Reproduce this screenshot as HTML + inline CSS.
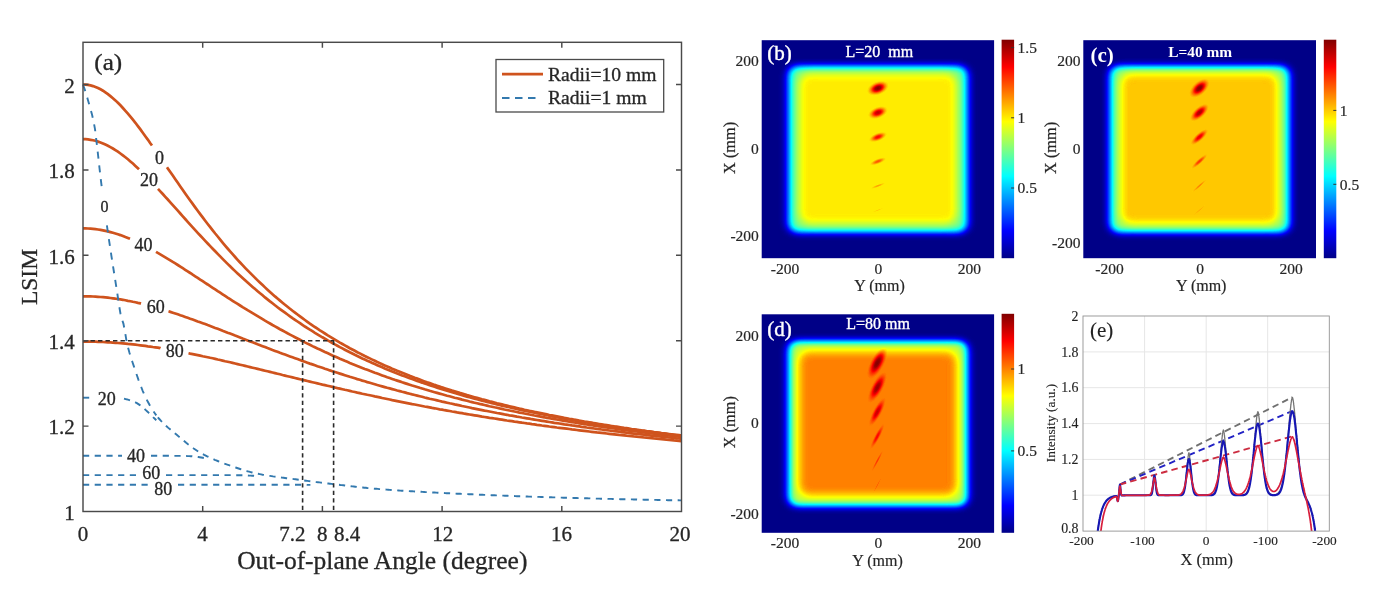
<!DOCTYPE html>
<html lang="en">
<head>
<meta charset="utf-8">
<title>LSIM versus out-of-plane angle and intensity maps</title>
<style>
html,body{margin:0;padding:0;background:#fff;}
body{width:1381px;height:593px;overflow:hidden;font-family:"Liberation Serif","Times New Roman",serif;}
svg{display:block;}
</style>
</head>
<body>
<svg width="1381" height="593" viewBox="0 0 1381 593">
<defs>
<filter id="jet" x="0" y="0" width="100%" height="100%" color-interpolation-filters="sRGB">
<feComponentTransfer>
<feFuncR type="table" tableValues="0 0 0 0 0.5 1 1 1 0.5"/>
<feFuncG type="table" tableValues="0 0 0.5 1 1 1 0.5 0 0"/>
<feFuncB type="table" tableValues="0.53 1 1 1 0.5 0 0 0 0"/>
</feComponentTransfer>
</filter>
<filter id="bl" x="-10%" y="-10%" width="120%" height="120%" color-interpolation-filters="sRGB"><feGaussianBlur stdDeviation="4 3.75"/></filter>
<filter id="bl2" x="-10%" y="-10%" width="120%" height="120%" color-interpolation-filters="sRGB"><feGaussianBlur stdDeviation="4.3 4"/></filter>
<radialGradient id="sp"><stop offset="0" stop-color="#fff"/><stop offset="0.25" stop-color="#fff" stop-opacity="0.9"/><stop offset="0.45" stop-color="#fff" stop-opacity="0.62"/><stop offset="0.65" stop-color="#fff" stop-opacity="0.3"/><stop offset="0.85" stop-color="#fff" stop-opacity="0.08"/><stop offset="1" stop-color="#fff" stop-opacity="0"/></radialGradient>
<filter id="bs" x="-20%" y="-20%" width="140%" height="140%" color-interpolation-filters="sRGB"><feGaussianBlur stdDeviation="0.6"/></filter>
<linearGradient id="cb" x1="0" y1="1" x2="0" y2="0">
<stop offset="0" stop-color="#000087"/><stop offset="0.125" stop-color="#0000ff"/><stop offset="0.375" stop-color="#00ffff"/>
<stop offset="0.625" stop-color="#ffff00"/><stop offset="0.875" stop-color="#ff0000"/><stop offset="1" stop-color="#800000"/>
</linearGradient>
</defs>
<rect width="1381" height="593" fill="#fff"/>
<g id="pa">
<g fill="none" stroke="#CF531D" stroke-width="2.7" stroke-linecap="butt">
<path d="M83,84.5L85.5,84.6L88,84.9L90.5,85.4L93,86.1L95.5,87L98,88L100.5,89.3L103,90.7L105.4,92.4L107.9,94.1L110.4,96.1L112.9,98.2L115.4,100.4L117.9,102.8L120.4,105.3L122.9,108L125.4,110.8L127.9,113.6L130.4,116.6L132.9,119.7L135.4,122.8L137.9,126.1L140.4,129.4L142.8,132.8L145.3,136.2L147.8,139.6L150.3,143.2L152,145.5"/>
<path d="M167,167.2L167.8,168.4L170.3,172L172.8,175.6L175.3,179.2L177.8,182.8L180.3,186.4L182.8,190L185.2,193.5L187.7,197L190.2,200.5L192.7,203.9L195.2,207.4L197.7,210.8L200.2,214.1L202.7,217.4L205.2,220.7L207.7,224L210.2,227.2L212.7,230.3L215.2,233.5L217.7,236.5L220.2,239.6L222.6,242.6L225.1,245.6L227.6,248.5L230.1,251.4L232.6,254.2L235.1,257L237.6,259.8L240.1,262.5L242.6,265.1L245.1,267.8L247.6,270.4L250.1,272.9L252.6,275.4L255.1,277.9L257.6,280.4L260.1,282.8L262.6,285.1L265,287.4L267.5,289.7L270,292L272.5,294.2L275,296.4L277.5,298.5L280,300.6L282.5,302.7L285,304.8L287.5,306.8L290,308.8L292.5,310.7L295,312.6L297.5,314.5L300,316.4L302.4,318.2L304.9,320L307.4,321.8L309.9,323.6L312.4,325.3L314.9,327L317.4,328.6L319.9,330.3L322.4,331.9L324.9,333.5L327.4,335.1L329.9,336.6L332.4,338.1L334.9,339.6L337.4,341.1L339.9,342.6L342.4,344L344.8,345.4L347.3,346.8L349.8,348.2L352.3,349.5L354.8,350.8L357.3,352.2L359.8,353.4L362.3,354.7L364.8,356L367.3,357.2L369.8,358.4L372.3,359.6L374.8,360.8L377.3,362L379.8,363.1L382.2,364.3L384.7,365.4L387.2,366.5L389.7,367.6L392.2,368.7L394.7,369.7L397.2,370.8L399.7,371.8L402.2,372.8L404.7,373.8L407.2,374.8L409.7,375.8L412.2,376.7L414.7,377.7L417.2,378.6L419.7,379.6L422.1,380.5L424.6,381.4L427.1,382.3L429.6,383.1L432.1,384L434.6,384.9L437.1,385.7L439.6,386.5L442.1,387.4L444.6,388.2L447.1,389L449.6,389.8L452.1,390.6L454.6,391.3L457.1,392.1L459.6,392.9L462.1,393.6L464.5,394.3L467,395.1L469.5,395.8L472,396.5L474.5,397.2L477,397.9L479.5,398.6L482,399.3L484.5,399.9L487,400.6L489.5,401.3L492,401.9L494.5,402.5L497,403.2L499.5,403.8L501.9,404.4L504.4,405L506.9,405.6L509.4,406.2L511.9,406.8L514.4,407.4L516.9,408L519.4,408.6L521.9,409.1L524.4,409.7L526.9,410.2L529.4,410.8L531.9,411.3L534.4,411.9L536.9,412.4L539.4,412.9L541.9,413.4L544.3,413.9L546.8,414.4L549.3,415L551.8,415.4L554.3,415.9L556.8,416.4L559.3,416.9L561.8,417.4L564.3,417.9L566.8,418.3L569.3,418.8L571.8,419.2L574.3,419.7L576.8,420.1L579.3,420.6L581.7,421L584.2,421.5L586.7,421.9L589.2,422.3L591.7,422.7L594.2,423.2L596.7,423.6L599.2,424L601.7,424.4L604.2,424.8L606.7,425.2L609.2,425.6L611.7,426L614.2,426.4L616.7,426.7L619.2,427.1L621.6,427.5L624.1,427.9L626.6,428.2L629.1,428.6L631.6,429L634.1,429.3L636.6,429.7L639.1,430L641.6,430.4L644.1,430.7L646.6,431.1L649.1,431.4L651.6,431.7L654.1,432.1L656.6,432.4L659.1,432.7L661.5,433.1L664,433.4L666.5,433.7L669,434L671.5,434.3L674,434.6L676.5,434.9L679,435.2L681.5,435.5"/>
<path d="M83,139.2L85.5,139.2L88,139.4L90.5,139.8L93,140.2L95.5,140.8L98,141.6L100.5,142.4L103,143.4L105.4,144.5L107.9,145.7L110.4,147.1L112.9,148.5L115.4,150.1L117.9,151.7L120.4,153.5L122.9,155.4L125.4,157.3L127.9,159.3L130.4,161.4L132.9,163.6L135.4,165.9L137.9,168.2L139,169.3"/>
<path d="M158,188.8L160.3,191.3L162.8,194L165.3,196.8L167.8,199.5L170.3,202.3L172.8,205.1L175.3,207.9L177.8,210.7L180.3,213.5L182.8,216.3L185.2,219L187.7,221.8L190.2,224.6L192.7,227.3L195.2,230.1L197.7,232.8L200.2,235.5L202.7,238.2L205.2,240.9L207.7,243.5L210.2,246.1L212.7,248.7L215.2,251.3L217.7,253.9L220.2,256.4L222.6,258.9L225.1,261.4L227.6,263.9L230.1,266.3L232.6,268.7L235.1,271.1L237.6,273.4L240.1,275.7L242.6,278L245.1,280.3L247.6,282.5L250.1,284.7L252.6,286.9L255.1,289.1L257.6,291.2L260.1,293.3L262.6,295.3L265,297.4L267.5,299.4L270,301.4L272.5,303.3L275,305.3L277.5,307.2L280,309.1L282.5,310.9L285,312.7L287.5,314.5L290,316.3L292.5,318.1L295,319.8L297.5,321.5L300,323.2L302.4,324.8L304.9,326.5L307.4,328.1L309.9,329.7L312.4,331.2L314.9,332.8L317.4,334.3L319.9,335.8L322.4,337.3L324.9,338.7L327.4,340.2L329.9,341.6L332.4,343L334.9,344.4L337.4,345.7L339.9,347.1L342.4,348.4L344.8,349.7L347.3,351L349.8,352.3L352.3,353.5L354.8,354.8L357.3,356L359.8,357.2L362.3,358.4L364.8,359.5L367.3,360.7L369.8,361.8L372.3,363L374.8,364.1L377.3,365.2L379.8,366.3L382.2,367.3L384.7,368.4L387.2,369.4L389.7,370.4L392.2,371.5L394.7,372.5L397.2,373.4L399.7,374.4L402.2,375.4L404.7,376.3L407.2,377.3L409.7,378.2L412.2,379.1L414.7,380L417.2,380.9L419.7,381.8L422.1,382.6L424.6,383.5L427.1,384.3L429.6,385.2L432.1,386L434.6,386.8L437.1,387.6L439.6,388.4L442.1,389.2L444.6,390L447.1,390.8L449.6,391.5L452.1,392.3L454.6,393L457.1,393.7L459.6,394.5L462.1,395.2L464.5,395.9L467,396.6L469.5,397.3L472,398L474.5,398.6L477,399.3L479.5,400L482,400.6L484.5,401.3L487,401.9L489.5,402.5L492,403.2L494.5,403.8L497,404.4L499.5,405L501.9,405.6L504.4,406.2L506.9,406.8L509.4,407.3L511.9,407.9L514.4,408.5L516.9,409L519.4,409.6L521.9,410.1L524.4,410.7L526.9,411.2L529.4,411.7L531.9,412.3L534.4,412.8L536.9,413.3L539.4,413.8L541.9,414.3L544.3,414.8L546.8,415.3L549.3,415.8L551.8,416.3L554.3,416.7L556.8,417.2L559.3,417.7L561.8,418.1L564.3,418.6L566.8,419.1L569.3,419.5L571.8,419.9L574.3,420.4L576.8,420.8L579.3,421.3L581.7,421.7L584.2,422.1L586.7,422.5L589.2,422.9L591.7,423.4L594.2,423.8L596.7,424.2L599.2,424.6L601.7,425L604.2,425.3L606.7,425.7L609.2,426.1L611.7,426.5L614.2,426.9L616.7,427.3L619.2,427.6L621.6,428L624.1,428.4L626.6,428.7L629.1,429.1L631.6,429.4L634.1,429.8L636.6,430.1L639.1,430.5L641.6,430.8L644.1,431.1L646.6,431.5L649.1,431.8L651.6,432.1L654.1,432.5L656.6,432.8L659.1,433.1L661.5,433.4L664,433.7L666.5,434L669,434.4L671.5,434.7L674,435L676.5,435.3L679,435.6L681.5,435.9"/>
<path d="M83,228.4L85.5,228.4L88,228.5L90.5,228.7L93,228.9L95.5,229.2L98,229.5L100.5,229.9L103,230.4L105.4,230.9L107.9,231.4L110.4,232.1L112.9,232.8L115.4,233.5L117.9,234.3L120.4,235.1L122.9,236L125.4,237L127.9,237.9L130,238.8"/>
<path d="M156,251.8L157.8,252.9L160.3,254.3L162.8,255.8L165.3,257.3L167.8,258.8L170.3,260.3L172.8,261.9L175.3,263.4L177.8,265L180.3,266.6L182.8,268.2L185.2,269.8L187.7,271.4L190.2,273L192.7,274.7L195.2,276.3L197.7,277.9L200.2,279.6L202.7,281.2L205.2,282.9L207.7,284.5L210.2,286.2L212.7,287.8L215.2,289.4L217.7,291.1L220.2,292.7L222.6,294.3L225.1,295.9L227.6,297.6L230.1,299.2L232.6,300.8L235.1,302.4L237.6,303.9L240.1,305.5L242.6,307.1L245.1,308.6L247.6,310.2L250.1,311.7L252.6,313.2L255.1,314.7L257.6,316.2L260.1,317.7L262.6,319.2L265,320.7L267.5,322.1L270,323.5L272.5,325L275,326.4L277.5,327.8L280,329.2L282.5,330.5L285,331.9L287.5,333.3L290,334.6L292.5,335.9L295,337.2L297.5,338.5L300,339.8L302.4,341.1L304.9,342.4L307.4,343.6L309.9,344.8L312.4,346.1L314.9,347.3L317.4,348.5L319.9,349.6L322.4,350.8L324.9,352L327.4,353.1L329.9,354.2L332.4,355.4L334.9,356.5L337.4,357.6L339.9,358.7L342.4,359.7L344.8,360.8L347.3,361.8L349.8,362.9L352.3,363.9L354.8,364.9L357.3,365.9L359.8,366.9L362.3,367.9L364.8,368.9L367.3,369.8L369.8,370.8L372.3,371.7L374.8,372.7L377.3,373.6L379.8,374.5L382.2,375.4L384.7,376.3L387.2,377.2L389.7,378L392.2,378.9L394.7,379.8L397.2,380.6L399.7,381.4L402.2,382.3L404.7,383.1L407.2,383.9L409.7,384.7L412.2,385.5L414.7,386.2L417.2,387L419.7,387.8L422.1,388.5L424.6,389.3L427.1,390L429.6,390.8L432.1,391.5L434.6,392.2L437.1,392.9L439.6,393.6L442.1,394.3L444.6,395L447.1,395.7L449.6,396.3L452.1,397L454.6,397.7L457.1,398.3L459.6,398.9L462.1,399.6L464.5,400.2L467,400.8L469.5,401.5L472,402.1L474.5,402.7L477,403.3L479.5,403.9L482,404.4L484.5,405L487,405.6L489.5,406.2L492,406.7L494.5,407.3L497,407.8L499.5,408.4L501.9,408.9L504.4,409.5L506.9,410L509.4,410.5L511.9,411L514.4,411.5L516.9,412L519.4,412.6L521.9,413L524.4,413.5L526.9,414L529.4,414.5L531.9,415L534.4,415.5L536.9,415.9L539.4,416.4L541.9,416.9L544.3,417.3L546.8,417.8L549.3,418.2L551.8,418.7L554.3,419.1L556.8,419.5L559.3,420L561.8,420.4L564.3,420.8L566.8,421.2L569.3,421.7L571.8,422.1L574.3,422.5L576.8,422.9L579.3,423.3L581.7,423.7L584.2,424.1L586.7,424.5L589.2,424.8L591.7,425.2L594.2,425.6L596.7,426L599.2,426.4L601.7,426.7L604.2,427.1L606.7,427.4L609.2,427.8L611.7,428.2L614.2,428.5L616.7,428.9L619.2,429.2L621.6,429.6L624.1,429.9L626.6,430.2L629.1,430.6L631.6,430.9L634.1,431.2L636.6,431.5L639.1,431.9L641.6,432.2L644.1,432.5L646.6,432.8L649.1,433.1L651.6,433.4L654.1,433.7L656.6,434.1L659.1,434.4L661.5,434.6L664,434.9L666.5,435.2L669,435.5L671.5,435.8L674,436.1L676.5,436.4L679,436.7L681.5,436.9"/>
<path d="M83,296.3L85.5,296.3L88,296.3L90.5,296.4L93,296.5L95.5,296.6L98,296.8L100.5,297L103,297.2L105.4,297.4L107.9,297.7L110.4,298L112.9,298.3L115.4,298.7L117.9,299L120.4,299.4L122.9,299.8L125.4,300.3L127.9,300.8L130.4,301.2L132.9,301.8L135.4,302.3L137.9,302.9L140.4,303.4L141,303.6"/>
<path d="M168.5,311.3L170.3,311.9L172.8,312.7L175.3,313.5L177.8,314.3L180.3,315.2L182.8,316L185.2,316.9L187.7,317.8L190.2,318.7L192.7,319.5L195.2,320.4L197.7,321.4L200.2,322.3L202.7,323.2L205.2,324.1L207.7,325.1L210.2,326L212.7,326.9L215.2,327.9L217.7,328.8L220.2,329.8L222.6,330.8L225.1,331.7L227.6,332.7L230.1,333.6L232.6,334.6L235.1,335.6L237.6,336.5L240.1,337.5L242.6,338.5L245.1,339.4L247.6,340.4L250.1,341.4L252.6,342.3L255.1,343.3L257.6,344.3L260.1,345.2L262.6,346.2L265,347.1L267.5,348.1L270,349L272.5,350L275,350.9L277.5,351.8L280,352.8L282.5,353.7L285,354.6L287.5,355.5L290,356.4L292.5,357.3L295,358.2L297.5,359.1L300,360L302.4,360.9L304.9,361.8L307.4,362.7L309.9,363.6L312.4,364.4L314.9,365.3L317.4,366.2L319.9,367L322.4,367.8L324.9,368.7L327.4,369.5L329.9,370.4L332.4,371.2L334.9,372L337.4,372.8L339.9,373.6L342.4,374.4L344.8,375.2L347.3,376L349.8,376.8L352.3,377.5L354.8,378.3L357.3,379.1L359.8,379.8L362.3,380.6L364.8,381.3L367.3,382.1L369.8,382.8L372.3,383.5L374.8,384.2L377.3,385L379.8,385.7L382.2,386.4L384.7,387.1L387.2,387.8L389.7,388.4L392.2,389.1L394.7,389.8L397.2,390.5L399.7,391.1L402.2,391.8L404.7,392.4L407.2,393.1L409.7,393.7L412.2,394.4L414.7,395L417.2,395.6L419.7,396.2L422.1,396.8L424.6,397.5L427.1,398.1L429.6,398.7L432.1,399.2L434.6,399.8L437.1,400.4L439.6,401L442.1,401.6L444.6,402.1L447.1,402.7L449.6,403.3L452.1,403.8L454.6,404.4L457.1,404.9L459.6,405.4L462.1,406L464.5,406.5L467,407L469.5,407.5L472,408.1L474.5,408.6L477,409.1L479.5,409.6L482,410.1L484.5,410.6L487,411L489.5,411.5L492,412L494.5,412.5L497,413L499.5,413.4L501.9,413.9L504.4,414.4L506.9,414.8L509.4,415.3L511.9,415.7L514.4,416.1L516.9,416.6L519.4,417L521.9,417.5L524.4,417.9L526.9,418.3L529.4,418.7L531.9,419.2L534.4,419.6L536.9,420L539.4,420.4L541.9,420.8L544.3,421.2L546.8,421.6L549.3,422L551.8,422.4L554.3,422.8L556.8,423.1L559.3,423.5L561.8,423.9L564.3,424.3L566.8,424.6L569.3,425L571.8,425.4L574.3,425.7L576.8,426.1L579.3,426.4L581.7,426.8L584.2,427.1L586.7,427.5L589.2,427.8L591.7,428.2L594.2,428.5L596.7,428.9L599.2,429.2L601.7,429.5L604.2,429.8L606.7,430.2L609.2,430.5L611.7,430.8L614.2,431.1L616.7,431.4L619.2,431.7L621.6,432.1L624.1,432.4L626.6,432.7L629.1,433L631.6,433.3L634.1,433.6L636.6,433.9L639.1,434.1L641.6,434.4L644.1,434.7L646.6,435L649.1,435.3L651.6,435.6L654.1,435.9L656.6,436.1L659.1,436.4L661.5,436.7L664,436.9L666.5,437.2L669,437.5L671.5,437.7L674,438L676.5,438.3L679,438.5L681.5,438.8"/>
<path d="M83,341.6L85.5,341.6L88,341.6L90.5,341.6L93,341.7L95.5,341.7L98,341.8L100.5,341.9L103,342L105.4,342.1L107.9,342.3L110.4,342.4L112.9,342.6L115.4,342.8L117.9,343L120.4,343.2L122.9,343.4L125.4,343.6L127.9,343.9L130.4,344.1L132.9,344.4L135.4,344.7L137.9,345L140.4,345.3L142.8,345.6L145.3,345.9L147.8,346.3L150.3,346.6L152.8,347L155.3,347.3L157.8,347.7L160.3,348.1L160.5,348.2"/>
<path d="M188.5,353.2L190.2,353.6L192.7,354.1L195.2,354.6L197.7,355.1L200.2,355.6L202.7,356.2L205.2,356.7L207.7,357.2L210.2,357.8L212.7,358.3L215.2,358.9L217.7,359.5L220.2,360L222.6,360.6L225.1,361.2L227.6,361.7L230.1,362.3L232.6,362.9L235.1,363.5L237.6,364.1L240.1,364.7L242.6,365.3L245.1,365.9L247.6,366.5L250.1,367.1L252.6,367.7L255.1,368.3L257.6,368.9L260.1,369.5L262.6,370.1L265,370.7L267.5,371.3L270,371.9L272.5,372.5L275,373.1L277.5,373.7L280,374.3L282.5,375L285,375.6L287.5,376.2L290,376.8L292.5,377.4L295,378L297.5,378.6L300,379.2L302.4,379.8L304.9,380.4L307.4,381L309.9,381.6L312.4,382.2L314.9,382.8L317.4,383.4L319.9,384L322.4,384.6L324.9,385.1L327.4,385.7L329.9,386.3L332.4,386.9L334.9,387.5L337.4,388.1L339.9,388.6L342.4,389.2L344.8,389.8L347.3,390.3L349.8,390.9L352.3,391.5L354.8,392L357.3,392.6L359.8,393.1L362.3,393.7L364.8,394.2L367.3,394.8L369.8,395.3L372.3,395.8L374.8,396.4L377.3,396.9L379.8,397.4L382.2,398L384.7,398.5L387.2,399L389.7,399.5L392.2,400.1L394.7,400.6L397.2,401.1L399.7,401.6L402.2,402.1L404.7,402.6L407.2,403.1L409.7,403.6L412.2,404.1L414.7,404.5L417.2,405L419.7,405.5L422.1,406L424.6,406.5L427.1,406.9L429.6,407.4L432.1,407.9L434.6,408.3L437.1,408.8L439.6,409.3L442.1,409.7L444.6,410.2L447.1,410.6L449.6,411L452.1,411.5L454.6,411.9L457.1,412.4L459.6,412.8L462.1,413.2L464.5,413.7L467,414.1L469.5,414.5L472,414.9L474.5,415.3L477,415.7L479.5,416.1L482,416.6L484.5,417L487,417.4L489.5,417.8L492,418.1L494.5,418.5L497,418.9L499.5,419.3L501.9,419.7L504.4,420.1L506.9,420.5L509.4,420.8L511.9,421.2L514.4,421.6L516.9,421.9L519.4,422.3L521.9,422.7L524.4,423L526.9,423.4L529.4,423.7L531.9,424.1L534.4,424.4L536.9,424.8L539.4,425.1L541.9,425.5L544.3,425.8L546.8,426.1L549.3,426.5L551.8,426.8L554.3,427.1L556.8,427.5L559.3,427.8L561.8,428.1L564.3,428.4L566.8,428.7L569.3,429L571.8,429.4L574.3,429.7L576.8,430L579.3,430.3L581.7,430.6L584.2,430.9L586.7,431.2L589.2,431.5L591.7,431.8L594.2,432.1L596.7,432.4L599.2,432.6L601.7,432.9L604.2,433.2L606.7,433.5L609.2,433.8L611.7,434.1L614.2,434.3L616.7,434.6L619.2,434.9L621.6,435.1L624.1,435.4L626.6,435.7L629.1,435.9L631.6,436.2L634.1,436.5L636.6,436.7L639.1,437L641.6,437.2L644.1,437.5L646.6,437.7L649.1,438L651.6,438.2L654.1,438.5L656.6,438.7L659.1,439L661.5,439.2L664,439.4L666.5,439.7L669,439.9L671.5,440.1L674,440.4L676.5,440.6L679,440.8L681.5,441.1"/>
</g>
<g fill="none" stroke="#3379AE" stroke-width="1.9" stroke-dasharray="6.2 5.5">
<path d="M83,84.5L84.5,88.7L86,93.4L87.5,98.4L89,103.7L90.5,109L92,114.5L93.5,121L95,129.1L96.5,141.4L98,154.5L99.5,168.1L101,181.1L102.5,192.9" stroke-dasharray="7 6.8"/>
<path d="M106.9,225.4L108.4,235.8L109.9,245.9L111.4,255.8L112.9,265.4L114.4,274.9L115.9,284.4L117.4,294L118.9,304.4L120.4,313.2L121.9,318.9L123.4,323.6L124.9,331.2L126.4,340.3L127.9,346.9L129.4,352.5L130.9,357.4L132.4,362L133.9,366.4L135.4,370.9L136.9,375.3L138.4,379.6L139.9,383.6L141.4,387.5L142.8,391.1L144.3,394.5L145.8,397.7L147.3,400.7L148.8,403.5L150.3,406.2L151.8,408.7L153.3,411.1L154.8,413.3L156.3,415.4" stroke-dasharray="7 6.8"/>
<path d="M157.8,417.3L159.3,419L160.8,420.7L162.3,422.3L163.8,423.7L165.3,425.2L166.8,426.5L168.3,427.9L169.8,429.1L171.3,430.4L172.8,431.6L174.3,432.9L175.8,434.1L177.3,435.3L178.8,436.6L180.3,437.8L181.8,439.1L183.2,440.3L184.7,441.5L186.2,442.8L187.7,444L189.2,445.1L190.7,446.3L192.2,447.4L193.7,448.5L195.2,449.5L196.7,450.5L198.2,451.5L199.7,452.4L201.2,453.3L202.7,454.1L204.2,454.9L205.7,455.6L207.2,456.4L208.7,457.1L210.2,457.8L211.7,458.5L213.2,459.1L214.7,459.8L216.2,460.4L217.7,461L219.2,461.6L220.7,462.1L222.2,462.7L223.6,463.3L225.1,463.8L226.6,464.4L228.1,464.9L229.6,465.4L231.1,465.9L232.6,466.4L234.1,467L235.6,467.5L237.1,468L238.6,468.5L240.1,469L241.6,469.5L243.1,469.9L244.6,470.4L246.1,470.9L247.6,471.3L249.1,471.7L250.6,472.1L252.1,472.5L253.6,472.9L255.1,473.2L256.6,473.5L258.1,473.8L259.6,474.1L261.1,474.4L262.6,474.7L264,474.9L265.5,475.2L267,475.4L268.5,475.7L270,475.9L271.5,476.1L273,476.4L274.5,476.6L276,476.8L277.5,477L279,477.2L280.5,477.4L282,477.6L283.5,477.8L285,478L286.5,478.2L288,478.4L289.5,478.6L291,478.7L292.5,478.9L294,479.1L295.5,479.3L297,479.5L298.5,479.7L300,479.9L301.5,480.1L302.9,480.3L304.4,480.5L305.9,480.7L307.4,480.9L308.9,481.1L310.4,481.3L311.9,481.5L313.4,481.7L314.9,481.9L316.4,482.1L317.9,482.2L319.4,482.4L320.9,482.6L322.4,482.8L323.9,483L325.4,483.2L326.9,483.4L328.4,483.5L329.9,483.7L331.4,483.9L332.9,484.1L334.4,484.3L335.9,484.4L337.4,484.6L338.9,484.8L340.4,485L341.9,485.1L343.3,485.3L344.8,485.5L346.3,485.7L347.8,485.8L349.3,486L350.8,486.2L352.3,486.4L353.8,486.5L355.3,486.7L356.8,486.9L358.3,487L359.8,487.2L361.3,487.4L362.8,487.5L364.3,487.7L365.8,487.8L367.3,488L368.8,488.1L370.3,488.3L371.8,488.4L373.3,488.5L374.8,488.7L376.3,488.8L377.8,488.9L379.3,489.1L380.8,489.2L382.2,489.3L383.7,489.4L385.2,489.5L386.7,489.6L388.2,489.7L389.7,489.9L391.2,490L392.7,490.1L394.2,490.2L395.7,490.3L397.2,490.4L398.7,490.5L400.2,490.6L401.7,490.7L403.2,490.8L404.7,490.9L406.2,490.9L407.7,491L409.2,491.1L410.7,491.2L412.2,491.3L413.7,491.4L415.2,491.5L416.7,491.6L418.2,491.7L419.7,491.7L421.2,491.8L422.6,491.9L424.1,492L425.6,492.1L427.1,492.1L428.6,492.2L430.1,492.3L431.6,492.4L433.1,492.5L434.6,492.5L436.1,492.6L437.6,492.7L439.1,492.8L440.6,492.8L442.1,492.9L443.6,493L445.1,493.1L446.6,493.2L448.1,493.2L449.6,493.3L451.1,493.4L452.6,493.4L454.1,493.5L455.6,493.6L457.1,493.7L458.6,493.7L460.1,493.8L461.6,493.9L463,493.9L464.5,494L466,494.1L467.5,494.1L469,494.2L470.5,494.3L472,494.3L473.5,494.4L475,494.5L476.5,494.5L478,494.6L479.5,494.7L481,494.7L482.5,494.8L484,494.9L485.5,494.9L487,495L488.5,495.1L490,495.1L491.5,495.2L493,495.2L494.5,495.3L496,495.4L497.5,495.4L499,495.5L500.5,495.5L501.9,495.6L503.4,495.6L504.9,495.7L506.4,495.8L507.9,495.8L509.4,495.9L510.9,495.9L512.4,496L513.9,496L515.4,496.1L516.9,496.2L518.4,496.2L519.9,496.3L521.4,496.3L522.9,496.4L524.4,496.4L525.9,496.5L527.4,496.5L528.9,496.6L530.4,496.6L531.9,496.7L533.4,496.7L534.9,496.8L536.4,496.8L537.9,496.9L539.4,496.9L540.9,497L542.3,497L543.8,497.1L545.3,497.1L546.8,497.2L548.3,497.2L549.8,497.3L551.3,497.3L552.8,497.4L554.3,497.4L555.8,497.4L557.3,497.5L558.8,497.5L560.3,497.6L561.8,497.6L563.3,497.7L564.8,497.7L566.3,497.8L567.8,497.8L569.3,497.8L570.8,497.9L572.3,497.9L573.8,498L575.3,498L576.8,498L578.3,498.1L579.8,498.1L581.3,498.2L582.7,498.2L584.2,498.3L585.7,498.3L587.2,498.3L588.7,498.4L590.2,498.4L591.7,498.5L593.2,498.5L594.7,498.5L596.2,498.6L597.7,498.6L599.2,498.6L600.7,498.7L602.2,498.7L603.7,498.8L605.2,498.8L606.7,498.8L608.2,498.9L609.7,498.9L611.2,498.9L612.7,499L614.2,499L615.7,499L617.2,499.1L618.7,499.1L620.2,499.2L621.6,499.2L623.1,499.2L624.6,499.3L626.1,499.3L627.6,499.3L629.1,499.4L630.6,499.4L632.1,499.4L633.6,499.5L635.1,499.5L636.6,499.5L638.1,499.6L639.6,499.6L641.1,499.6L642.6,499.6L644.1,499.7L645.6,499.7L647.1,499.7L648.6,499.8L650.1,499.8L651.6,499.8L653.1,499.9L654.6,499.9L656.1,499.9L657.6,500L659.1,500L660.6,500L662,500L663.5,500.1L665,500.1L666.5,500.1L668,500.2L669.5,500.2L671,500.2L672.5,500.2L674,500.3L675.5,500.3L677,500.3L678.5,500.3L680,500.4L681.5,500.4"/>
<path d="M83,397.7L84.5,397.7L86,397.7L87.5,397.7L89,397.7L90.5,397.7L91,397.7"/>
<path d="M124,398.7L124.9,398.9L126.4,399.3L127.9,399.6L129.4,400.1L130.9,400.5L132.4,401L133.9,401.6L135.4,402.3L136.9,403.1L138.4,404.1L139.9,405.1L141.4,406.2L142.8,407.5L144.3,408.8L145.8,410.1L147.3,411.5L148.8,412.9L150.3,414.4L151.8,415.9L153.3,417.4L154.8,418.8L156.3,420.2"/>
<path d="M83,455.8L84.5,455.8L86,455.8L87.5,455.8L89,455.8L90.5,455.8L92,455.8L93.5,455.8L95,455.8L96.5,455.8L98,455.8L99.5,455.8L101,455.8L102.5,455.8L103.9,455.8L105.4,455.8L106.9,455.8L108.4,455.8L109.9,455.8L111.4,455.8L112.9,455.8L114.4,455.8L115.9,455.8L117.4,455.8L118.9,455.8L120.4,455.8L121.9,455.8L122,455.8"/>
<path d="M151,455.8L151.8,455.8L153.3,455.8L154.8,455.8L156.3,455.8L157.8,455.8L159.3,455.8L160.8,455.8L162.3,455.8L163.8,455.8L165.3,455.8L166.8,455.8L168.3,455.8L169.8,455.8L171.3,455.8L172.8,455.8L174.3,455.9L175.8,455.9L177.3,455.9L178.8,455.9L180.3,455.9L181.8,455.9L183.2,455.9L184.7,456L186.2,456L187.7,456.1L189.2,456.1L190.7,456.2L192.2,456.3L193.7,456.5L195.2,456.6L196.7,456.8L198.2,457L199.7,457.2L201.2,457.5L202.7,457.8L204.2,458.1"/>
<path d="M83,475.1L84.5,475.1L86,475.1L87.5,475.1L89,475.1L90.5,475.1L92,475.1L93.5,475.1L95,475.1L96.5,475.1L98,475.1L99.5,475.1L101,475.1L102.5,475.1L103.9,475.1L105.4,475.1L106.9,475.1L108.4,475.1L109.9,475.1L111.4,475.1L112.9,475.1L114.4,475.1L115.9,475.1L117.4,475.1L118.9,475.1L120.4,475.1L121.9,475.1L123.4,475.1L124.9,475.1L126.4,475.1L127.9,475.1L129.4,475.1L130.9,475.1L132.4,475.1L133.9,475.1L135.4,475.1L136.9,475.1L138,475.1"/>
<path d="M166,475.1L166.8,475.1L168.3,475.1L169.8,475.1L171.3,475.1L172.8,475.1L174.3,475.1L175.8,475.1L177.3,475.1L178.8,475.1L180.3,475.1L181.8,475.1L183.2,475.1L184.7,475.1L186.2,475.1L187.7,475.1L189.2,475.1L190.7,475.1L192.2,475.1L193.7,475.1L195.2,475.1L196.7,475.1L198.2,475.1L199.7,475.1L201.2,475.1L202.7,475.1L204.2,475.1L205.7,475.1L207.2,475.1L208.7,475.1L210.2,475.1L211.7,475.1L213.2,475.1L214.7,475.1L216.2,475.1L217.7,475.1L219.2,475.1L220.7,475.1L222.2,475.1L223.6,475.1L225.1,475.1L226.6,475.1L228.1,475.1L229.6,475.1L231.1,475.1L232.6,475.2L234.1,475.2L235.6,475.2L237.1,475.2L238.6,475.2L240.1,475.3L241.6,475.3L243.1,475.3L244.6,475.4L246.1,475.4L247.6,475.5L249.1,475.6L250.6,475.6L252.1,475.7L253.6,475.8L255.1,475.9L256.6,476"/>
<path d="M83,484.7L84.5,484.7L86,484.7L87.5,484.7L89,484.7L90.5,484.7L92,484.7L93.5,484.7L95,484.7L96.5,484.7L98,484.7L99.5,484.7L101,484.7L102.5,484.7L103.9,484.7L105.4,484.7L106.9,484.7L108.4,484.7L109.9,484.7L111.4,484.7L112.9,484.7L114.4,484.7L115.9,484.7L117.4,484.7L118.9,484.7L120.4,484.7L121.9,484.7L123.4,484.7L124.9,484.7L126.4,484.7L127.9,484.7L129.4,484.7L130.9,484.7L132.4,484.7L133.9,484.7L135.4,484.7L136.9,484.7L138.4,484.7L139.9,484.7L141.4,484.7L142.8,484.7L144.3,484.7L145.8,484.7L147.3,484.7L148.8,484.7L150,484.7"/>
<path d="M178,484.7L178.8,484.7L180.3,484.7L181.8,484.7L183.2,484.7L184.7,484.7L186.2,484.7L187.7,484.7L189.2,484.7L190.7,484.7L192.2,484.7L193.7,484.7L195.2,484.7L196.7,484.7L198.2,484.7L199.7,484.7L201.2,484.7L202.7,484.7L204.2,484.7L205.7,484.7L207.2,484.7L208.7,484.7L210.2,484.7L211.7,484.7L213.2,484.7L214.7,484.7L216.2,484.7L217.7,484.7L219.2,484.7L220.7,484.7L222.2,484.7L223.6,484.7L225.1,484.7L226.6,484.7L228.1,484.7L229.6,484.7L231.1,484.7L232.6,484.7L234.1,484.7L235.6,484.7L237.1,484.7L238.6,484.7L240.1,484.7L241.6,484.7L243.1,484.7L244.6,484.7L246.1,484.7L247.6,484.7L249.1,484.7L250.6,484.7L252.1,484.7L253.6,484.7L255.1,484.7L256.6,484.7L258.1,484.7L259.6,484.7L261.1,484.7L262.6,484.7L264,484.7L265.5,484.7L267,484.7L268.5,484.7L270,484.7L271.5,484.7L273,484.7L274.5,484.7L276,484.7L277.5,484.7L279,484.7L280.5,484.7L282,484.7L283.5,484.8L285,484.8L286.5,484.8L288,484.8L289.5,484.8L291,484.8L292.5,484.8L294,484.8L295.5,484.8L297,484.8L298.5,484.8L300,484.8L301.5,484.8L302.9,484.8L304.4,484.8L305.9,484.8L307.4,484.9L308.9,484.9L310.4,484.9"/>
</g>
<g fill="none" stroke="#2a2a2a" stroke-width="1.6" stroke-dasharray="4.4 3.1">
<path d="M83,340.7L334,340.7"/>
<path d="M302.6,340.7L302.6,511.5"/>
<path d="M333.6,340.7L333.6,511.5"/>
</g>
<g fill="none" stroke="#4a4a4a" stroke-width="1.45">
<rect x="83" y="42.3" width="598.5" height="469.2"/>
<path d="M202.7,511.5v-5.5M202.7,42.3v5.5M322.4,511.5v-5.5M322.4,42.3v5.5M442.1,511.5v-5.5M442.1,42.3v5.5M561.8,511.5v-5.5M561.8,42.3v5.5M83,426.1h5.5M681.5,426.1h-5.5M83,340.7h5.5M681.5,340.7h-5.5M83,255.3h5.5M681.5,255.3h-5.5M83,169.9h5.5M681.5,169.9h-5.5M83,84.5h5.5M681.5,84.5h-5.5"/>
</g>
<g font-family='"Liberation Serif", "Times New Roman", serif' fill="#262626" stroke="#262626" stroke-width="0.3" font-size="21">
<g text-anchor="middle">
<text x="83" y="541">0</text>
<text x="202.5" y="541">4</text>
<text x="292.3" y="541">7.2</text>
<text x="322.3" y="541">8</text>
<text x="347" y="541">8.4</text>
<text x="442.7" y="541">12</text>
<text x="561.5" y="541">16</text>
<text x="680" y="541">20</text>
</g><g text-anchor="end">
<text x="74.8" y="519.8">1</text>
<text x="74.8" y="434.4">1.2</text>
<text x="74.8" y="349">1.4</text>
<text x="74.8" y="263.6">1.6</text>
<text x="74.8" y="178.2">1.8</text>
<text x="74.8" y="92.8">2</text>
</g>
<text x="382.3" y="568.7" font-size="25.5" text-anchor="middle">Out-of-plane Angle (degree)</text>
<text transform="translate(37.2,277) rotate(-90)" font-size="23.5" text-anchor="middle">LSIM</text>
<text transform="translate(94.3,70.3) scale(1.08,1)" font-size="23.3">(a)</text>
<g text-anchor="middle" font-size="18">
<text x="159.4" y="163.8">0</text>
<text x="149.1" y="185.7">20</text>
<text x="143.6" y="250.5">40</text>
<text x="155.7" y="313.4">60</text>
<text x="174.7" y="357.1">80</text>
<text x="106.8" y="404.9">20</text>
<text x="135.9" y="461.9">40</text>
<text x="151.3" y="479.4">60</text>
<text x="163.3" y="495.2">80</text>
<text x="104.6" y="211.8" font-size="16">0</text>
</g>
<rect x="496" y="59.5" width="167.7" height="52.5" fill="#fff" stroke="#4a4a4a" stroke-width="1.3"/>
<path d="M502,74.2H543" stroke="#CF531D" stroke-width="2.7"/>
<path d="M502,98H536" stroke="#3379AE" stroke-width="1.8" stroke-dasharray="7.5 5.5"/>
<text x="548" y="80.8" font-size="19.6">Radii=10 mm</text>
<text x="548" y="104.3" font-size="19.6">Radii=1 mm</text>
</g>
</g>
<g id="pb">
<g filter="url(#jet)">
<rect x="761.7" y="40.2" width="232.4" height="218" fill="#000"/>
<g filter="url(#bl)"><rect x="788.3" y="65.9" width="179.2" height="166.6" rx="9" fill="rgb(123,123,123)"/></g>
<g filter="url(#bl2)"><rect x="798.9" y="73" width="158" height="151.2" rx="10" fill="rgb(164,164,164)"/></g>
<g fill="url(#sp)" filter="url(#bs)">
<ellipse cx="877.9" cy="88.2" rx="11.5" ry="6.8" transform="rotate(-21 877.9 88.2)" opacity="1.00"/>
<ellipse cx="877.9" cy="112.6" rx="10.5" ry="5.8" transform="rotate(-21 877.9 112.6)" opacity="0.83"/>
<ellipse cx="877.9" cy="137" rx="9.8" ry="4.2" transform="rotate(-21 877.9 137)" opacity="0.65"/>
<ellipse cx="877.9" cy="161.4" rx="9.2" ry="2.8" transform="rotate(-21 877.9 161.4)" opacity="0.43"/>
<ellipse cx="877.9" cy="185.8" rx="8.5" ry="1.5" transform="rotate(-21 877.9 185.8)" opacity="0.22"/>
<ellipse cx="877.9" cy="210.2" rx="7" ry="0.9" transform="rotate(-21 877.9 210.2)" opacity="0.09"/>
</g></g>
<rect x="1001.6" y="39.7" width="12.5" height="218.5" fill="url(#cb)"/>
<g font-family='"Liberation Serif", "Times New Roman", serif' fill="#262626" stroke="#262626" stroke-width="0.2" font-size="15.5">
<path d="M1014.1,47.6h-3" stroke="#333" stroke-width="1"/>
<text x="1017.6" y="52.8">1.5</text>
<path d="M1014.1,117.8h-3" stroke="#333" stroke-width="1"/>
<text x="1017.6" y="123">1</text>
<path d="M1014.1,188h-3" stroke="#333" stroke-width="1"/>
<text x="1017.6" y="193.2">0.5</text>
<g text-anchor="end">
<text x="758.8" y="66.4">200</text>
<text x="758.8" y="153.6">0</text>
<text x="758.8" y="240.8">-200</text>
</g><g text-anchor="middle">
<text x="785" y="273.6">-200</text>
<text x="878.4" y="273.6">0</text>
<text x="969.4" y="273.6">200</text>
<text x="879.5" y="291.2" font-size="16">Y (mm)</text>
<text transform="translate(735.4,147.9) rotate(-90)" font-size="16.3">X (mm)</text>
</g>
<text x="767.2" y="59.7" font-size="21" fill="#fff" stroke="#fff" stroke-width="0.4">(b)</text>
<text x="879.4" y="56.5" font-size="16" fill="#fff" stroke="#fff" stroke-width="0.35" text-anchor="middle" xml:space="preserve" style="white-space:pre">L=20  mm</text>
</g></g>
<g id="pc">
<g filter="url(#jet)">
<rect x="1083.3" y="40.2" width="232.7" height="218" fill="#000"/>
<g filter="url(#bl)"><rect x="1109.9" y="65.9" width="179.5" height="166.6" rx="9" fill="rgb(130,130,130)"/></g>
<g filter="url(#bl2)"><rect x="1120.5" y="73" width="158.2" height="151.2" rx="10" fill="rgb(173,173,173)"/></g>
<g fill="url(#sp)" filter="url(#bs)">
<ellipse cx="1199.4" cy="88.2" rx="12.5" ry="6.8" transform="rotate(-42 1199.4 88.2)" opacity="1.00"/>
<ellipse cx="1199.4" cy="112.6" rx="12" ry="5.5" transform="rotate(-42 1199.4 112.6)" opacity="0.88"/>
<ellipse cx="1199.4" cy="137" rx="11.5" ry="4" transform="rotate(-42 1199.4 137)" opacity="0.69"/>
<ellipse cx="1199.4" cy="161.4" rx="11" ry="2.6" transform="rotate(-42 1199.4 161.4)" opacity="0.46"/>
<ellipse cx="1199.4" cy="185.8" rx="10" ry="1.4" transform="rotate(-42 1199.4 185.8)" opacity="0.23"/>
<ellipse cx="1199.4" cy="210.2" rx="8.5" ry="0.8" transform="rotate(-42 1199.4 210.2)" opacity="0.11"/>
</g></g>
<rect x="1323.8" y="39.7" width="12.5" height="218.5" fill="url(#cb)"/>
<g font-family='"Liberation Serif", "Times New Roman", serif' fill="#262626" stroke="#262626" stroke-width="0.2" font-size="15.5">
<path d="M1336.3,110.4h-3" stroke="#333" stroke-width="1"/>
<text x="1339.8" y="115.6">1</text>
<path d="M1336.3,184.3h-3" stroke="#333" stroke-width="1"/>
<text x="1339.8" y="189.5">0.5</text>
<g text-anchor="end">
<text x="1080.4" y="66.4">200</text>
<text x="1080.4" y="153.6">0</text>
<text x="1080.4" y="248.4">-200</text>
</g><g text-anchor="middle">
<text x="1109.5" y="273.6">-200</text>
<text x="1200.2" y="273.6">0</text>
<text x="1291.2" y="273.6">200</text>
<text x="1201.2" y="291.2" font-size="16">Y (mm)</text>
<text transform="translate(1055.5,147.9) rotate(-90)" font-size="16.3">X (mm)</text>
</g>
<text x="1090.4" y="61.5" font-size="21" fill="#fff" stroke="#fff" stroke-width="0" font-weight="bold">(c)</text>
<text x="1200.2" y="56.5" font-size="15.4" fill="#fff" stroke="#fff" stroke-width="0" text-anchor="middle" xml:space="preserve" style="white-space:pre" font-weight="bold">L=40 mm</text>
</g></g>
<g id="pd">
<g filter="url(#jet)">
<rect x="761.7" y="314.3" width="232.4" height="218.5" fill="#000"/>
<g filter="url(#bl)"><rect x="788.3" y="340.9" width="179.2" height="165.2" rx="9" fill="rgb(143,143,143)"/></g>
<g filter="url(#bl2)"><rect x="798.9" y="351.5" width="158" height="144" rx="10" fill="rgb(191,191,191)"/></g>
<g fill="url(#sp)" filter="url(#bs)">
<ellipse cx="877.3" cy="363" rx="18" ry="7" transform="rotate(-62 877.3 363)" opacity="1.00"/>
<ellipse cx="877.3" cy="387.4" rx="17.5" ry="6" transform="rotate(-62 877.3 387.4)" opacity="0.90"/>
<ellipse cx="877.3" cy="411.9" rx="16.5" ry="4.5" transform="rotate(-62 877.3 411.9)" opacity="0.72"/>
<ellipse cx="877.3" cy="436.4" rx="15" ry="2.8" transform="rotate(-62 877.3 436.4)" opacity="0.51"/>
<ellipse cx="877.3" cy="460.9" rx="13" ry="1.4" transform="rotate(-62 877.3 460.9)" opacity="0.30"/>
<ellipse cx="877.3" cy="485.3" rx="10.5" ry="0.8" transform="rotate(-62 877.3 485.3)" opacity="0.15"/>
</g></g>
<rect x="1001.6" y="313.8" width="12.5" height="219" fill="url(#cb)"/>
<g font-family='"Liberation Serif", "Times New Roman", serif' fill="#262626" stroke="#262626" stroke-width="0.2" font-size="15.5">
<path d="M1014.1,369h-3" stroke="#333" stroke-width="1"/>
<text x="1017.6" y="374.2">1</text>
<path d="M1014.1,450.9h-3" stroke="#333" stroke-width="1"/>
<text x="1017.6" y="456.1">0.5</text>
<g text-anchor="end">
<text x="758.8" y="340.5">200</text>
<text x="758.8" y="427.9">0</text>
<text x="758.8" y="518.5">-200</text>
</g><g text-anchor="middle">
<text x="785" y="548.2">-200</text>
<text x="878.4" y="548.2">0</text>
<text x="969.4" y="548.2">200</text>
<text x="877.5" y="565.8" font-size="16">Y (mm)</text>
<text transform="translate(735.4,422.2) rotate(-90)" font-size="16.3">X (mm)</text>
</g>
<text x="767.2" y="335.7" font-size="21" fill="#fff" stroke="#fff" stroke-width="0.4">(d)</text>
<text x="878.1" y="329.3" font-size="16" fill="#fff" stroke="#fff" stroke-width="0.35" text-anchor="middle" xml:space="preserve" style="white-space:pre">L=80 mm</text>
</g></g>
<g id="pe">
<clipPath id="ce"><rect x="1083" y="316" width="246.3" height="215.1"/></clipPath>
<path d="M1144.6,316V531.1M1206.2,316V531.1M1267.7,316V531.1M1083,495.2H1329.3M1083,459.4H1329.3M1083,423.6H1329.3M1083,387.7H1329.3M1083,351.9H1329.3" stroke="#e6e6e6" stroke-width="1" fill="none"/>
<g clip-path="url(#ce)" fill="none" stroke-width="2.1" stroke-linejoin="round">
<path d="M1119.9,484.5L1292.4,397.2" stroke="#707070" stroke-width="1.9" stroke-dasharray="6.5 4.2"/>
<path d="M1119.9,484.5L1292.4,411" stroke="#2222c4" stroke-width="1.9" stroke-dasharray="6.5 4.2"/>
<path d="M1119.9,484.5L1292.4,436.3" stroke="#cc2c40" stroke-width="1.9" stroke-dasharray="6.5 4.2"/>
<path d="M1083,1374.7L1083.2,1345.9L1083.3,1318L1083.5,1291L1083.6,1265L1083.8,1239.7L1083.9,1215.3L1084.1,1191.7L1084.2,1168.9L1084.4,1146.8L1084.5,1125.4L1084.7,1104.8L1084.8,1084.8L1085,1065.5L1085.2,1046.8L1085.3,1028.7L1085.5,1011.2L1085.6,994.3L1085.8,977.9L1085.9,962.1L1086.1,946.8L1086.2,932L1086.4,917.7L1086.5,903.8L1086.7,890.4L1086.8,877.5L1087,864.9L1087.2,852.8L1087.3,841.1L1087.5,829.8L1087.6,818.8L1087.8,808.2L1087.9,797.9L1088.1,788L1088.2,778.4L1088.4,769.1L1088.5,760.1L1088.7,751.5L1088.8,743.1L1089,734.9L1089.2,727.1L1089.3,719.5L1089.5,712.1L1089.6,705L1089.8,698.1L1089.9,691.5L1090.1,685.1L1090.2,678.8L1090.4,672.8L1090.5,667L1090.7,661.4L1090.9,655.9L1091,650.7L1091.2,645.6L1091.3,640.6L1091.5,635.9L1091.6,631.3L1091.8,626.8L1091.9,622.5L1092.1,618.3L1092.2,614.3L1092.4,610.4L1092.5,606.6L1092.7,602.9L1092.9,599.4L1093,596L1093.2,592.7L1093.3,589.5L1093.5,586.4L1093.6,583.4L1093.8,580.5L1093.9,577.7L1094.1,575L1094.2,572.4L1094.4,569.9L1094.5,567.4L1094.7,565.1L1094.9,562.8L1095,560.6L1095.2,558.4L1095.3,556.4L1095.5,554.4L1095.6,552.4L1095.8,550.5L1095.9,548.7L1096.1,547L1096.2,545.3L1096.4,543.6L1096.5,542.1L1096.7,540.5L1096.9,539L1097,537.6L1097.2,536.2L1097.3,534.9L1097.5,533.6L1097.6,532.3L1097.8,531.1L1097.9,529.9L1098.1,528.8L1098.2,527.7L1098.4,526.6L1098.5,525.6L1098.7,524.6L1098.9,523.6L1099,522.7L1099.2,521.8L1099.3,520.9L1099.5,520.1L1099.6,519.3L1099.8,518.5L1099.9,517.7L1100.1,517L1100.2,516.3L1100.4,515.6L1100.5,514.9L1100.7,514.3L1100.9,513.7L1101,513.1L1101.2,512.5L1101.3,511.9L1101.5,511.4L1101.6,510.8L1101.8,510.3L1101.9,509.8L1102.1,509.3L1102.2,508.9L1102.4,508.4L1102.6,508L1102.7,507.6L1102.9,507.2L1103,506.8L1103.2,506.4L1103.3,506L1103.5,505.7L1103.6,505.4L1103.8,505L1103.9,504.7L1104.1,504.4L1104.2,504.1L1104.4,503.8L1104.6,503.5L1104.7,503.2L1104.9,503L1105,502.7L1105.2,502.5L1105.3,502.3L1105.5,502L1105.6,501.8L1105.8,501.6L1105.9,501.4L1106.1,501.2L1106.2,501L1106.4,500.8L1106.6,500.6L1106.7,500.4L1106.9,500.3L1107,500.1L1107.2,499.9L1107.3,499.8L1107.5,499.6L1107.6,499.5L1107.8,499.4L1107.9,499.2L1108.1,499.1L1108.2,499L1108.4,498.8L1108.6,498.7L1108.7,498.6L1108.9,498.5L1109,498.4L1109.2,498.3L1109.3,498.2L1109.5,498.1L1109.6,498L1109.8,497.9L1109.9,497.8L1110.1,497.7L1110.2,497.7L1110.4,497.6L1110.6,497.5L1110.7,497.4L1110.9,497.4L1111,497.3L1111.2,497.2L1111.3,497.2L1111.5,497.1L1111.6,497L1111.8,497L1111.9,496.9L1112.1,496.9L1112.2,496.8L1112.4,496.8L1112.6,496.7L1112.7,496.7L1112.9,496.6L1113,496.6L1113.2,496.5L1113.3,496.5L1113.5,496.4L1113.6,496.4L1113.8,496.4L1113.9,496.3L1114.1,496.3L1114.2,496.3L1114.4,496.2L1114.6,496.2L1114.7,496.2L1114.9,496.1L1115,496.1L1115.2,496.1L1115.3,496.1L1115.5,496L1115.6,496L1115.8,496L1115.9,496L1116.1,496L1116.3,496L1116.4,496L1116.6,496.2L1116.7,496.5L1116.9,497L1117,497.6L1117.2,498.5L1117.3,499.4L1117.5,500.3L1117.6,500.9L1117.8,501.1L1117.9,500.8L1118.1,500.1L1118.3,499L1118.4,497.9L1118.6,496.7L1118.7,495.5L1118.9,494.3L1119,493L1119.2,491.6L1119.3,490L1119.5,488.4L1119.6,486.8L1119.8,485.4L1119.9,484.8L1120.1,485.4L1120.3,486.7L1120.4,488.3L1120.6,489.9L1120.7,491.3L1120.9,492.5L1121,493.5L1121.2,494.2L1121.3,494.7L1121.5,495L1121.6,495.2L1121.8,495.3L1121.9,495.4L1122.1,495.4L1122.3,495.4L1122.4,495.4L1122.6,495.4L1122.7,495.4L1122.9,495.4L1123,495.4L1123.2,495.4L1123.3,495.4L1123.5,495.4L1123.6,495.4L1123.8,495.4L1123.9,495.4L1124.1,495.4L1124.3,495.4L1124.4,495.4L1124.6,495.4L1124.7,495.4L1124.9,495.4L1125,495.3L1125.2,495.3L1125.3,495.3L1125.5,495.3L1125.6,495.3L1125.8,495.3L1125.9,495.3L1126.1,495.3L1126.3,495.3L1126.4,495.3L1126.6,495.3L1126.7,495.3L1126.9,495.3L1127,495.3L1127.2,495.3L1127.3,495.3L1127.5,495.3L1127.6,495.3L1127.8,495.3L1127.9,495.3L1128.1,495.3L1128.3,495.3L1128.4,495.3L1128.6,495.3L1128.7,495.3L1128.9,495.3L1129,495.3L1129.2,495.3L1129.3,495.3L1129.5,495.3L1129.6,495.3L1129.8,495.3L1130,495.3L1130.1,495.3L1130.3,495.3L1130.4,495.3L1130.6,495.3L1130.7,495.3L1130.9,495.3L1131,495.3L1131.2,495.3L1131.3,495.3L1131.5,495.3L1131.6,495.3L1131.8,495.3L1132,495.3L1132.1,495.3L1132.3,495.3L1132.4,495.3L1132.6,495.3L1132.7,495.3L1132.9,495.3L1133,495.3L1133.2,495.3L1133.3,495.3L1133.5,495.3L1133.6,495.3L1133.8,495.3L1134,495.3L1134.1,495.3L1134.3,495.3L1134.4,495.3L1134.6,495.3L1134.7,495.3L1134.9,495.3L1135,495.3L1135.2,495.3L1135.3,495.3L1135.5,495.3L1135.6,495.3L1135.8,495.3L1136,495.3L1136.1,495.3L1136.3,495.3L1136.4,495.3L1136.6,495.3L1136.7,495.3L1136.9,495.3L1137,495.3L1137.2,495.3L1137.3,495.3L1137.5,495.3L1137.6,495.3L1137.8,495.3L1138,495.3L1138.1,495.3L1138.3,495.3L1138.4,495.3L1138.6,495.3L1138.7,495.3L1138.9,495.3L1139,495.3L1139.2,495.3L1139.3,495.3L1139.5,495.3L1139.6,495.3L1139.8,495.3L1140,495.3L1140.1,495.3L1140.3,495.3L1140.4,495.3L1140.6,495.3L1140.7,495.3L1140.9,495.3L1141,495.3L1141.2,495.3L1141.3,495.3L1141.5,495.3L1141.7,495.3L1141.8,495.3L1142,495.3L1142.1,495.3L1142.3,495.3L1142.4,495.3L1142.6,495.3L1142.7,495.3L1142.9,495.3L1143,495.3L1143.2,495.3L1143.3,495.3L1143.5,495.3L1143.7,495.3L1143.8,495.3L1144,495.3L1144.1,495.3L1144.3,495.3L1144.4,495.3L1144.6,495.3L1144.7,495.3L1144.9,495.3L1145,495.3L1145.2,495.3L1145.3,495.3L1145.5,495.3L1145.7,495.3L1145.8,495.3L1146,495.3L1146.1,495.3L1146.3,495.3L1146.4,495.3L1146.6,495.3L1146.7,495.3L1146.9,495.3L1147,495.3L1147.2,495.3L1147.3,495.3L1147.5,495.3L1147.7,495.3L1147.8,495.3L1148,495.2L1148.1,495.2L1148.3,495.2L1148.4,495.2L1148.6,495.2L1148.7,495.2L1148.9,495.2L1149,495.2L1149.2,495.2L1149.3,495.2L1149.5,495.2L1149.7,495.2L1149.8,495.2L1150,495.2L1150.1,495.1L1150.3,495.1L1150.4,495L1150.6,494.9L1150.7,494.8L1150.9,494.7L1151,494.5L1151.2,494.3L1151.3,494L1151.5,493.7L1151.7,493.3L1151.8,492.9L1152,492.3L1152.1,491.6L1152.3,490.9L1152.4,490L1152.6,489L1152.7,487.9L1152.9,486.7L1153,485.3L1153.2,483.9L1153.3,482.5L1153.5,481L1153.7,479.5L1153.8,478.1L1154,476.8L1154.1,475.8L1154.3,475L1154.4,474.6L1154.6,475L1154.7,475.8L1154.9,476.8L1155,478.1L1155.2,479.5L1155.4,481L1155.5,482.5L1155.7,483.9L1155.8,485.3L1156,486.7L1156.1,487.9L1156.3,489L1156.4,490L1156.6,490.9L1156.7,491.6L1156.9,492.3L1157,492.9L1157.2,493.3L1157.4,493.7L1157.5,494L1157.7,494.3L1157.8,494.5L1158,494.7L1158.1,494.8L1158.3,494.9L1158.4,495L1158.6,495.1L1158.7,495.1L1158.9,495.2L1159,495.2L1159.2,495.2L1159.4,495.2L1159.5,495.2L1159.7,495.2L1159.8,495.2L1160,495.2L1160.1,495.2L1160.3,495.2L1160.4,495.2L1160.6,495.2L1160.7,495.2L1160.9,495.2L1161,495.2L1161.2,495.2L1161.4,495.2L1161.5,495.2L1161.7,495.2L1161.8,495.2L1162,495.2L1162.1,495.3L1162.3,495.3L1162.4,495.3L1162.6,495.3L1162.7,495.3L1162.9,495.3L1163,495.3L1163.2,495.3L1163.4,495.3L1163.5,495.3L1163.7,495.3L1163.8,495.3L1164,495.3L1164.1,495.3L1164.3,495.3L1164.4,495.3L1164.6,495.3L1164.7,495.3L1164.9,495.3L1165,495.3L1165.2,495.3L1165.4,495.3L1165.5,495.3L1165.7,495.3L1165.8,495.3L1166,495.3L1166.1,495.3L1166.3,495.3L1166.4,495.3L1166.6,495.3L1166.7,495.3L1166.9,495.3L1167,495.3L1167.2,495.3L1167.4,495.3L1167.5,495.3L1167.7,495.3L1167.8,495.3L1168,495.3L1168.1,495.3L1168.3,495.3L1168.4,495.3L1168.6,495.3L1168.7,495.3L1168.9,495.3L1169.1,495.3L1169.2,495.3L1169.4,495.3L1169.5,495.3L1169.7,495.3L1169.8,495.3L1170,495.3L1170.1,495.3L1170.3,495.3L1170.4,495.3L1170.6,495.3L1170.7,495.3L1170.9,495.3L1171.1,495.3L1171.2,495.3L1171.4,495.3L1171.5,495.3L1171.7,495.3L1171.8,495.3L1172,495.3L1172.1,495.3L1172.3,495.3L1172.4,495.3L1172.6,495.3L1172.7,495.3L1172.9,495.2L1173.1,495.2L1173.2,495.2L1173.4,495.2L1173.5,495.2L1173.7,495.2L1173.8,495.2L1174,495.2L1174.1,495.2L1174.3,495.2L1174.4,495.2L1174.6,495.2L1174.7,495.2L1174.9,495.2L1175.1,495.2L1175.2,495.2L1175.4,495.2L1175.5,495.2L1175.7,495.2L1175.8,495.2L1176,495.2L1176.1,495.2L1176.3,495.2L1176.4,495.2L1176.6,495.2L1176.7,495.2L1176.9,495.2L1177.1,495.2L1177.2,495.2L1177.4,495.2L1177.5,495.2L1177.7,495.2L1177.8,495.2L1178,495.2L1178.1,495.2L1178.3,495.2L1178.4,495.2L1178.6,495.2L1178.7,495.2L1178.9,495.2L1179.1,495.2L1179.2,495.2L1179.4,495.2L1179.5,495.2L1179.7,495.2L1179.8,495.2L1180,495.2L1180.1,495.1L1180.3,495.1L1180.4,495.1L1180.6,495.1L1180.8,495L1180.9,495L1181.1,494.9L1181.2,494.9L1181.4,494.8L1181.5,494.7L1181.7,494.6L1181.8,494.5L1182,494.4L1182.1,494.3L1182.3,494.1L1182.4,494L1182.6,493.8L1182.8,493.6L1182.9,493.3L1183.1,493L1183.2,492.7L1183.4,492.4L1183.5,492L1183.7,491.6L1183.8,491.1L1184,490.6L1184.1,490L1184.3,489.4L1184.4,488.7L1184.6,487.9L1184.8,487.1L1184.9,486.2L1185.1,485.3L1185.2,484.3L1185.4,483.2L1185.5,482L1185.7,480.8L1185.8,479.5L1186,478.1L1186.1,476.7L1186.3,475.2L1186.4,473.7L1186.6,472.1L1186.8,470.5L1186.9,468.9L1187.1,467.2L1187.2,465.6L1187.4,463.9L1187.5,462.3L1187.7,460.8L1187.8,459.3L1188,457.9L1188.1,456.6L1188.3,455.4L1188.4,454.4L1188.6,453.6L1188.8,453L1188.9,452.8L1189.1,453L1189.2,453.6L1189.4,454.4L1189.5,455.4L1189.7,456.6L1189.8,457.9L1190,459.3L1190.1,460.8L1190.3,462.3L1190.4,463.9L1190.6,465.6L1190.8,467.2L1190.9,468.9L1191.1,470.5L1191.2,472.1L1191.4,473.7L1191.5,475.2L1191.7,476.7L1191.8,478.1L1192,479.5L1192.1,480.8L1192.3,482L1192.4,483.2L1192.6,484.3L1192.8,485.3L1192.9,486.2L1193.1,487.1L1193.2,487.9L1193.4,488.7L1193.5,489.4L1193.7,490L1193.8,490.6L1194,491.1L1194.1,491.6L1194.3,492L1194.5,492.4L1194.6,492.7L1194.8,493L1194.9,493.3L1195.1,493.6L1195.2,493.8L1195.4,494L1195.5,494.1L1195.7,494.3L1195.8,494.4L1196,494.5L1196.1,494.6L1196.3,494.7L1196.5,494.8L1196.6,494.9L1196.8,494.9L1196.9,495L1197.1,495L1197.2,495.1L1197.4,495.1L1197.5,495.1L1197.7,495.1L1197.8,495.2L1198,495.2L1198.1,495.2L1198.3,495.2L1198.5,495.2L1198.6,495.2L1198.8,495.2L1198.9,495.2L1199.1,495.2L1199.2,495.2L1199.4,495.2L1199.5,495.2L1199.7,495.2L1199.8,495.2L1200,495.2L1200.1,495.2L1200.3,495.2L1200.5,495.2L1200.6,495.2L1200.8,495.2L1200.9,495.2L1201.1,495.2L1201.2,495.2L1201.4,495.2L1201.5,495.2L1201.7,495.2L1201.8,495.2L1202,495.2L1202.1,495.2L1202.3,495.2L1202.5,495.2L1202.6,495.2L1202.8,495.2L1202.9,495.2L1203.1,495.2L1203.2,495.2L1203.4,495.2L1203.5,495.2L1203.7,495.2L1203.8,495.2L1204,495.2L1204.1,495.2L1204.3,495.2L1204.5,495.2L1204.6,495.2L1204.8,495.2L1204.9,495.2L1205.1,495.2L1205.2,495.2L1205.4,495.2L1205.5,495.2L1205.7,495.2L1205.8,495.2L1206,495.2L1206.2,495.2L1206.3,495.2L1206.5,495.2L1206.6,495.2L1206.8,495.2L1206.9,495.2L1207.1,495.2L1207.2,495.2L1207.4,495.2L1207.5,495.2L1207.7,495.2L1207.8,495.2L1208,495.2L1208.2,495.2L1208.3,495.2L1208.5,495.2L1208.6,495.2L1208.8,495.2L1208.9,495.2L1209.1,495.2L1209.2,495.2L1209.4,495.2L1209.5,495.2L1209.7,495.2L1209.8,495.2L1210,495.2L1210.2,495.1L1210.3,495.1L1210.5,495.1L1210.6,495.1L1210.8,495.1L1210.9,495L1211.1,495L1211.2,495L1211.4,495L1211.5,494.9L1211.7,494.9L1211.8,494.8L1212,494.8L1212.2,494.7L1212.3,494.7L1212.5,494.6L1212.6,494.5L1212.8,494.4L1212.9,494.4L1213.1,494.3L1213.2,494.1L1213.4,494L1213.5,493.9L1213.7,493.7L1213.8,493.6L1214,493.4L1214.2,493.2L1214.3,493L1214.5,492.8L1214.6,492.5L1214.8,492.3L1214.9,492L1215.1,491.7L1215.2,491.3L1215.4,491L1215.5,490.6L1215.7,490.1L1215.8,489.7L1216,489.2L1216.2,488.7L1216.3,488.1L1216.5,487.5L1216.6,486.8L1216.8,486.1L1216.9,485.4L1217.1,484.6L1217.2,483.8L1217.4,482.9L1217.5,482L1217.7,481.1L1217.8,480L1218,479L1218.2,477.8L1218.3,476.7L1218.5,475.4L1218.6,474.2L1218.8,472.8L1218.9,471.4L1219.1,470L1219.2,468.5L1219.4,467L1219.5,465.4L1219.7,463.8L1219.9,462.2L1220,460.5L1220.2,458.8L1220.3,457.1L1220.5,455.3L1220.6,453.6L1220.8,451.8L1220.9,450L1221.1,448.3L1221.2,446.5L1221.4,444.8L1221.5,443.1L1221.7,441.5L1221.9,439.9L1222,438.4L1222.2,437L1222.3,435.6L1222.5,434.4L1222.6,433.2L1222.8,432.2L1222.9,431.4L1223.1,430.7L1223.2,430.2L1223.4,430L1223.5,430.2L1223.7,430.7L1223.9,431.4L1224,432.2L1224.2,433.2L1224.3,434.4L1224.5,435.6L1224.6,437L1224.8,438.4L1224.9,439.9L1225.1,441.5L1225.2,443.1L1225.4,444.8L1225.5,446.5L1225.7,448.3L1225.9,450L1226,451.8L1226.2,453.6L1226.3,455.3L1226.5,457.1L1226.6,458.8L1226.8,460.5L1226.9,462.2L1227.1,463.8L1227.2,465.4L1227.4,467L1227.5,468.5L1227.7,470L1227.9,471.4L1228,472.8L1228.2,474.2L1228.3,475.4L1228.5,476.7L1228.6,477.8L1228.8,479L1228.9,480L1229.1,481.1L1229.2,482L1229.4,482.9L1229.5,483.8L1229.7,484.6L1229.9,485.4L1230,486.1L1230.2,486.8L1230.3,487.5L1230.5,488.1L1230.6,488.7L1230.8,489.2L1230.9,489.7L1231.1,490.1L1231.2,490.6L1231.4,491L1231.5,491.3L1231.7,491.7L1231.9,492L1232,492.3L1232.2,492.5L1232.3,492.8L1232.5,493L1232.6,493.2L1232.8,493.4L1232.9,493.6L1233.1,493.7L1233.2,493.9L1233.4,494L1233.6,494.1L1233.7,494.3L1233.9,494.4L1234,494.4L1234.2,494.5L1234.3,494.6L1234.5,494.7L1234.6,494.7L1234.8,494.8L1234.9,494.8L1235.1,494.9L1235.2,494.9L1235.4,495L1235.6,495L1235.7,495L1235.9,495L1236,495.1L1236.2,495.1L1236.3,495.1L1236.5,495.1L1236.6,495.1L1236.8,495.2L1236.9,495.2L1237.1,495.2L1237.2,495.2L1237.4,495.2L1237.6,495.2L1237.7,495.2L1237.9,495.2L1238,495.2L1238.2,495.2L1238.3,495.2L1238.5,495.2L1238.6,495.2L1238.8,495.2L1238.9,495.2L1239.1,495.2L1239.2,495.2L1239.4,495.2L1239.6,495.2L1239.7,495.2L1239.9,495.2L1240,495.2L1240.2,495.2L1240.3,495.2L1240.5,495.2L1240.6,495.2L1240.8,495.2L1240.9,495.2L1241.1,495.2L1241.2,495.2L1241.4,495.1L1241.6,495.1L1241.7,495.1L1241.9,495.1L1242,495.1L1242.2,495.1L1242.3,495.1L1242.5,495L1242.6,495L1242.8,495L1242.9,495L1243.1,494.9L1243.2,494.9L1243.4,494.9L1243.6,494.8L1243.7,494.8L1243.9,494.7L1244,494.7L1244.2,494.6L1244.3,494.6L1244.5,494.5L1244.6,494.4L1244.8,494.3L1244.9,494.2L1245.1,494.2L1245.3,494L1245.4,493.9L1245.6,493.8L1245.7,493.7L1245.9,493.6L1246,493.4L1246.2,493.2L1246.3,493.1L1246.5,492.9L1246.6,492.7L1246.8,492.5L1246.9,492.2L1247.1,492L1247.3,491.7L1247.4,491.4L1247.6,491.1L1247.7,490.8L1247.9,490.5L1248,490.1L1248.2,489.7L1248.3,489.3L1248.5,488.8L1248.6,488.4L1248.8,487.9L1248.9,487.3L1249.1,486.8L1249.3,486.2L1249.4,485.5L1249.6,484.9L1249.7,484.2L1249.9,483.4L1250,482.7L1250.2,481.8L1250.3,481L1250.5,480.1L1250.6,479.2L1250.8,478.2L1250.9,477.2L1251.1,476.1L1251.3,475L1251.4,473.8L1251.6,472.6L1251.7,471.4L1251.9,470.1L1252,468.7L1252.2,467.4L1252.3,465.9L1252.5,464.5L1252.6,462.9L1252.8,461.4L1252.9,459.8L1253.1,458.2L1253.3,456.5L1253.4,454.8L1253.6,453.1L1253.7,451.3L1253.9,449.5L1254,447.7L1254.2,445.9L1254.3,444L1254.5,442.2L1254.6,440.3L1254.8,438.4L1254.9,436.6L1255.1,434.7L1255.3,432.9L1255.4,431.1L1255.6,429.3L1255.7,427.6L1255.9,425.8L1256,424.2L1256.2,422.6L1256.3,421.1L1256.5,419.6L1256.6,418.2L1256.8,417L1256.9,415.8L1257.1,414.7L1257.3,413.8L1257.4,413L1257.6,412.4L1257.7,411.9L1257.9,411.7L1258,411.9L1258.2,412.4L1258.3,413L1258.5,413.8L1258.6,414.7L1258.8,415.8L1259,417L1259.1,418.2L1259.3,419.6L1259.4,421.1L1259.6,422.6L1259.7,424.2L1259.9,425.8L1260,427.6L1260.2,429.3L1260.3,431.1L1260.5,432.9L1260.6,434.7L1260.8,436.6L1261,438.4L1261.1,440.3L1261.3,442.2L1261.4,444L1261.6,445.9L1261.7,447.7L1261.9,449.5L1262,451.3L1262.2,453.1L1262.3,454.8L1262.5,456.5L1262.6,458.2L1262.8,459.8L1263,461.4L1263.1,462.9L1263.3,464.5L1263.4,465.9L1263.6,467.4L1263.7,468.7L1263.9,470.1L1264,471.4L1264.2,472.6L1264.3,473.8L1264.5,475L1264.6,476.1L1264.8,477.2L1265,478.2L1265.1,479.2L1265.3,480.1L1265.4,481L1265.6,481.8L1265.7,482.7L1265.9,483.4L1266,484.2L1266.2,484.9L1266.3,485.5L1266.5,486.2L1266.6,486.8L1266.8,487.3L1267,487.9L1267.1,488.4L1267.3,488.8L1267.4,489.3L1267.6,489.7L1267.7,490.1L1267.9,490.5L1268,490.8L1268.2,491.1L1268.3,491.4L1268.5,491.7L1268.6,492L1268.8,492.2L1269,492.5L1269.1,492.7L1269.3,492.9L1269.4,493.1L1269.6,493.2L1269.7,493.4L1269.9,493.5L1270,493.7L1270.2,493.8L1270.3,493.9L1270.5,494L1270.6,494.1L1270.8,494.2L1271,494.3L1271.1,494.4L1271.3,494.4L1271.4,494.5L1271.6,494.5L1271.7,494.6L1271.9,494.6L1272,494.7L1272.2,494.7L1272.3,494.7L1272.5,494.8L1272.7,494.8L1272.8,494.8L1273,494.8L1273.1,494.8L1273.3,494.8L1273.4,494.8L1273.6,494.8L1273.7,494.8L1273.9,494.8L1274,494.8L1274.2,494.8L1274.3,494.8L1274.5,494.8L1274.7,494.8L1274.8,494.7L1275,494.7L1275.1,494.7L1275.3,494.6L1275.4,494.6L1275.6,494.6L1275.7,494.5L1275.9,494.5L1276,494.4L1276.2,494.3L1276.3,494.3L1276.5,494.2L1276.7,494.1L1276.8,494L1277,493.9L1277.1,493.8L1277.3,493.7L1277.4,493.6L1277.6,493.5L1277.7,493.4L1277.9,493.3L1278,493.1L1278.2,493L1278.3,492.8L1278.5,492.6L1278.7,492.4L1278.8,492.2L1279,492L1279.1,491.8L1279.3,491.6L1279.4,491.3L1279.6,491.1L1279.7,490.8L1279.9,490.5L1280,490.2L1280.2,489.9L1280.3,489.5L1280.5,489.1L1280.7,488.8L1280.8,488.4L1281,487.9L1281.1,487.5L1281.3,487L1281.4,486.5L1281.6,486L1281.7,485.5L1281.9,484.9L1282,484.3L1282.2,483.7L1282.3,483L1282.5,482.3L1282.7,481.6L1282.8,480.9L1283,480.1L1283.1,479.3L1283.3,478.5L1283.4,477.6L1283.6,476.7L1283.7,475.8L1283.9,474.8L1284,473.8L1284.2,472.7L1284.4,471.7L1284.5,470.5L1284.7,469.4L1284.8,468.2L1285,467L1285.1,465.7L1285.3,464.4L1285.4,463.1L1285.6,461.7L1285.7,460.3L1285.9,458.9L1286,457.4L1286.2,455.9L1286.4,454.3L1286.5,452.8L1286.7,451.2L1286.8,449.5L1287,447.9L1287.1,446.2L1287.3,444.5L1287.4,442.8L1287.6,441L1287.7,439.3L1287.9,437.5L1288,435.7L1288.2,433.9L1288.4,432.1L1288.5,430.3L1288.7,428.5L1288.8,426.7L1289,424.9L1289.1,423.1L1289.3,421.3L1289.4,419.6L1289.6,417.8L1289.7,416.1L1289.9,414.5L1290,412.8L1290.2,411.3L1290.4,409.7L1290.5,408.3L1290.7,406.8L1290.8,405.5L1291,404.2L1291.1,403L1291.3,401.9L1291.4,400.9L1291.6,400L1291.7,399.2L1291.9,398.5L1292,398L1292.2,397.6L1292.4,397.5L1292.5,397.6L1292.7,398L1292.8,398.6L1293,399.3L1293.1,400.1L1293.3,401L1293.4,402L1293.6,403.2L1293.7,404.4L1293.9,405.7L1294,407L1294.2,408.5L1294.4,410L1294.5,411.5L1294.7,413.1L1294.8,414.8L1295,416.4L1295.1,418.2L1295.3,419.9L1295.4,421.7L1295.6,423.5L1295.7,425.3L1295.9,427.1L1296,428.9L1296.2,430.8L1296.4,432.6L1296.5,434.4L1296.7,436.2L1296.8,438.1L1297,439.9L1297.1,441.7L1297.3,443.4L1297.4,445.2L1297.6,446.9L1297.7,448.6L1297.9,450.3L1298.1,452L1298.2,453.6L1298.4,455.2L1298.5,456.8L1298.7,458.3L1298.8,459.8L1299,461.3L1299.1,462.8L1299.3,464.2L1299.4,465.6L1299.6,466.9L1299.7,468.2L1299.9,469.5L1300.1,470.7L1300.2,471.9L1300.4,473.1L1300.5,474.2L1300.7,475.3L1300.8,476.4L1301,477.4L1301.1,478.4L1301.3,479.4L1301.4,480.3L1301.6,481.2L1301.7,482.1L1301.9,482.9L1302.1,483.7L1302.2,484.5L1302.4,485.2L1302.5,486L1302.7,486.7L1302.8,487.4L1303,488L1303.1,488.6L1303.3,489.2L1303.4,489.8L1303.6,490.4L1303.7,491L1303.9,491.5L1304.1,492L1304.2,492.5L1304.4,493L1304.5,493.4L1304.7,493.9L1304.8,494.3L1305,494.7L1305.1,495.2L1305.3,495.6L1305.4,496L1305.6,496.3L1305.7,496.7L1305.9,497.1L1306.1,497.4L1306.2,497.8L1306.4,498.1L1306.5,498.5L1306.7,498.8L1306.8,499.2L1307,499.5L1307.1,499.8L1307.3,500.2L1307.4,500.5L1307.6,500.9L1307.7,501.2L1307.9,501.5L1308.1,501.9L1308.2,502.2L1308.4,502.6L1308.5,502.9L1308.7,503.3L1308.8,503.6L1309,504L1309.1,504.4L1309.3,504.7L1309.4,505.1L1309.6,505.5L1309.7,505.9L1309.9,506.4L1310.1,506.8L1310.2,507.2L1310.4,507.7L1310.5,508.1L1310.7,508.6L1310.8,509.1L1311,509.6L1311.1,510.1L1311.3,510.6L1311.4,511.2L1311.6,511.7L1311.8,512.3L1311.9,512.9L1312.1,513.5L1312.2,514.2L1312.4,514.8L1312.5,515.5L1312.7,516.2L1312.8,516.9L1313,517.7L1313.1,518.4L1313.3,519.2L1313.4,520L1313.6,520.9L1313.8,521.8L1313.9,522.7L1314.1,523.6L1314.2,524.6L1314.4,525.6L1314.5,526.6L1314.7,527.7L1314.8,528.8L1315,529.9L1315.1,531.1L1315.3,532.3L1315.4,533.6L1315.6,534.9L1315.8,536.2L1315.9,537.6L1316.1,539L1316.2,540.5L1316.4,542L1316.5,543.6L1316.7,545.3L1316.8,547L1317,548.7L1317.1,550.5L1317.3,552.4L1317.4,554.4L1317.6,556.4L1317.8,558.4L1317.9,560.6L1318.1,562.8L1318.2,565.1L1318.4,567.4L1318.5,569.9L1318.7,572.4L1318.8,575L1319,577.7L1319.1,580.5L1319.3,583.4L1319.4,586.4L1319.6,589.5L1319.8,592.7L1319.9,596L1320.1,599.4L1320.2,602.9L1320.4,606.6L1320.5,610.4L1320.7,614.3L1320.8,618.3L1321,622.5L1321.1,626.8L1321.3,631.3L1321.4,635.9L1321.6,640.6L1321.8,645.6L1321.9,650.7L1322.1,655.9L1322.2,661.4L1322.4,667L1322.5,672.8L1322.7,678.8L1322.8,685.1L1323,691.5L1323.1,698.1L1323.3,705L1323.5,712.1L1323.6,719.5L1323.8,727.1L1323.9,734.9L1324.1,743.1L1324.2,751.5L1324.4,760.1L1324.5,769.1L1324.7,778.4L1324.8,788L1325,797.9L1325.1,808.2L1325.3,818.8L1325.5,829.8L1325.6,841.1L1325.8,852.8L1325.9,864.9L1326.1,877.5L1326.2,890.4L1326.4,903.8L1326.5,917.7L1326.7,932L1326.8,946.8L1327,962.1L1327.1,977.9L1327.3,994.3L1327.5,1011.2L1327.6,1028.7L1327.8,1046.8L1327.9,1065.5L1328.1,1084.8L1328.2,1104.8L1328.4,1125.4L1328.5,1146.8L1328.7,1168.9L1328.8,1191.7L1329,1215.3L1329.1,1239.7L1329.3,1265" stroke="#757575" stroke-width="1.3"/>
<path d="M1083,1374.7L1083.2,1345.9L1083.3,1318L1083.5,1291L1083.6,1265L1083.8,1239.7L1083.9,1215.3L1084.1,1191.7L1084.2,1168.9L1084.4,1146.8L1084.5,1125.4L1084.7,1104.8L1084.8,1084.8L1085,1065.5L1085.2,1046.8L1085.3,1028.7L1085.5,1011.2L1085.6,994.3L1085.8,977.9L1085.9,962.1L1086.1,946.8L1086.2,932L1086.4,917.7L1086.5,903.8L1086.7,890.4L1086.8,877.5L1087,864.9L1087.2,852.8L1087.3,841.1L1087.5,829.8L1087.6,818.8L1087.8,808.2L1087.9,797.9L1088.1,788L1088.2,778.4L1088.4,769.1L1088.5,760.1L1088.7,751.5L1088.8,743.1L1089,734.9L1089.2,727.1L1089.3,719.5L1089.5,712.1L1089.6,705L1089.8,698.1L1089.9,691.5L1090.1,685.1L1090.2,678.8L1090.4,672.8L1090.5,667L1090.7,661.4L1090.9,655.9L1091,650.7L1091.2,645.6L1091.3,640.6L1091.5,635.9L1091.6,631.3L1091.8,626.8L1091.9,622.5L1092.1,618.3L1092.2,614.3L1092.4,610.4L1092.5,606.6L1092.7,602.9L1092.9,599.4L1093,596L1093.2,592.7L1093.3,589.5L1093.5,586.4L1093.6,583.4L1093.8,580.5L1093.9,577.7L1094.1,575L1094.2,572.4L1094.4,569.9L1094.5,567.4L1094.7,565.1L1094.9,562.8L1095,560.6L1095.2,558.4L1095.3,556.4L1095.5,554.4L1095.6,552.4L1095.8,550.5L1095.9,548.7L1096.1,547L1096.2,545.3L1096.4,543.6L1096.5,542.1L1096.7,540.5L1096.9,539L1097,537.6L1097.2,536.2L1097.3,534.9L1097.5,533.6L1097.6,532.3L1097.8,531.1L1097.9,529.9L1098.1,528.8L1098.2,527.7L1098.4,526.6L1098.5,525.6L1098.7,524.6L1098.9,523.6L1099,522.7L1099.2,521.8L1099.3,520.9L1099.5,520.1L1099.6,519.3L1099.8,518.5L1099.9,517.7L1100.1,517L1100.2,516.3L1100.4,515.6L1100.5,514.9L1100.7,514.3L1100.9,513.7L1101,513.1L1101.2,512.5L1101.3,511.9L1101.5,511.4L1101.6,510.8L1101.8,510.3L1101.9,509.8L1102.1,509.3L1102.2,508.9L1102.4,508.4L1102.6,508L1102.7,507.6L1102.9,507.2L1103,506.8L1103.2,506.4L1103.3,506L1103.5,505.7L1103.6,505.4L1103.8,505L1103.9,504.7L1104.1,504.4L1104.2,504.1L1104.4,503.8L1104.6,503.5L1104.7,503.2L1104.9,503L1105,502.7L1105.2,502.5L1105.3,502.3L1105.5,502L1105.6,501.8L1105.8,501.6L1105.9,501.4L1106.1,501.2L1106.2,501L1106.4,500.8L1106.6,500.6L1106.7,500.4L1106.9,500.3L1107,500.1L1107.2,499.9L1107.3,499.8L1107.5,499.6L1107.6,499.5L1107.8,499.4L1107.9,499.2L1108.1,499.1L1108.2,499L1108.4,498.8L1108.6,498.7L1108.7,498.6L1108.9,498.5L1109,498.4L1109.2,498.3L1109.3,498.2L1109.5,498.1L1109.6,498L1109.8,497.9L1109.9,497.8L1110.1,497.7L1110.2,497.7L1110.4,497.6L1110.6,497.5L1110.7,497.4L1110.9,497.4L1111,497.3L1111.2,497.2L1111.3,497.2L1111.5,497.1L1111.6,497L1111.8,497L1111.9,496.9L1112.1,496.9L1112.2,496.8L1112.4,496.8L1112.6,496.7L1112.7,496.7L1112.9,496.6L1113,496.6L1113.2,496.5L1113.3,496.5L1113.5,496.4L1113.6,496.4L1113.8,496.4L1113.9,496.3L1114.1,496.3L1114.2,496.3L1114.4,496.2L1114.6,496.2L1114.7,496.2L1114.9,496.1L1115,496.1L1115.2,496.1L1115.3,496.1L1115.5,496L1115.6,496L1115.8,496L1115.9,496L1116.1,496L1116.3,496L1116.4,496L1116.6,496.2L1116.7,496.5L1116.9,497L1117,497.6L1117.2,498.5L1117.3,499.4L1117.5,500.3L1117.6,500.9L1117.8,501.1L1117.9,500.8L1118.1,500.2L1118.3,499.2L1118.4,498.2L1118.6,497.1L1118.7,496L1118.9,494.8L1119,493.5L1119.2,491.9L1119.3,490L1119.5,488.1L1119.6,486.4L1119.8,485.2L1119.9,484.8L1120.1,485.2L1120.3,486.4L1120.4,488.1L1120.6,489.9L1120.7,491.6L1120.9,493L1121,494L1121.2,494.7L1121.3,495.1L1121.5,495.3L1121.6,495.4L1121.8,495.4L1121.9,495.4L1122.1,495.4L1122.3,495.4L1122.4,495.4L1122.6,495.4L1122.7,495.4L1122.9,495.4L1123,495.4L1123.2,495.4L1123.3,495.4L1123.5,495.4L1123.6,495.4L1123.8,495.4L1123.9,495.4L1124.1,495.4L1124.3,495.4L1124.4,495.4L1124.6,495.4L1124.7,495.4L1124.9,495.4L1125,495.3L1125.2,495.3L1125.3,495.3L1125.5,495.3L1125.6,495.3L1125.8,495.3L1125.9,495.3L1126.1,495.3L1126.3,495.3L1126.4,495.3L1126.6,495.3L1126.7,495.3L1126.9,495.3L1127,495.3L1127.2,495.3L1127.3,495.3L1127.5,495.3L1127.6,495.3L1127.8,495.3L1127.9,495.3L1128.1,495.3L1128.3,495.3L1128.4,495.3L1128.6,495.3L1128.7,495.3L1128.9,495.3L1129,495.3L1129.2,495.3L1129.3,495.3L1129.5,495.3L1129.6,495.3L1129.8,495.3L1130,495.3L1130.1,495.3L1130.3,495.3L1130.4,495.3L1130.6,495.3L1130.7,495.3L1130.9,495.3L1131,495.3L1131.2,495.3L1131.3,495.3L1131.5,495.3L1131.6,495.3L1131.8,495.3L1132,495.3L1132.1,495.3L1132.3,495.3L1132.4,495.3L1132.6,495.3L1132.7,495.3L1132.9,495.3L1133,495.3L1133.2,495.3L1133.3,495.3L1133.5,495.3L1133.6,495.3L1133.8,495.3L1134,495.3L1134.1,495.3L1134.3,495.3L1134.4,495.3L1134.6,495.3L1134.7,495.3L1134.9,495.3L1135,495.3L1135.2,495.3L1135.3,495.3L1135.5,495.3L1135.6,495.3L1135.8,495.3L1136,495.3L1136.1,495.3L1136.3,495.3L1136.4,495.3L1136.6,495.3L1136.7,495.3L1136.9,495.3L1137,495.3L1137.2,495.3L1137.3,495.3L1137.5,495.3L1137.6,495.3L1137.8,495.3L1138,495.3L1138.1,495.3L1138.3,495.3L1138.4,495.3L1138.6,495.3L1138.7,495.3L1138.9,495.3L1139,495.3L1139.2,495.3L1139.3,495.3L1139.5,495.3L1139.6,495.3L1139.8,495.3L1140,495.3L1140.1,495.3L1140.3,495.3L1140.4,495.3L1140.6,495.3L1140.7,495.3L1140.9,495.3L1141,495.3L1141.2,495.3L1141.3,495.3L1141.5,495.3L1141.7,495.3L1141.8,495.3L1142,495.3L1142.1,495.3L1142.3,495.3L1142.4,495.3L1142.6,495.3L1142.7,495.3L1142.9,495.3L1143,495.3L1143.2,495.3L1143.3,495.3L1143.5,495.3L1143.7,495.3L1143.8,495.3L1144,495.3L1144.1,495.3L1144.3,495.3L1144.4,495.3L1144.6,495.3L1144.7,495.3L1144.9,495.3L1145,495.3L1145.2,495.3L1145.3,495.3L1145.5,495.3L1145.7,495.3L1145.8,495.3L1146,495.3L1146.1,495.3L1146.3,495.3L1146.4,495.3L1146.6,495.3L1146.7,495.3L1146.9,495.3L1147,495.3L1147.2,495.3L1147.3,495.3L1147.5,495.3L1147.7,495.3L1147.8,495.3L1148,495.3L1148.1,495.3L1148.3,495.3L1148.4,495.3L1148.6,495.3L1148.7,495.3L1148.9,495.3L1149,495.2L1149.2,495.2L1149.3,495.2L1149.5,495.2L1149.7,495.2L1149.8,495.2L1150,495.2L1150.1,495.2L1150.3,495.2L1150.4,495.2L1150.6,495.1L1150.7,495.1L1150.9,495L1151,494.9L1151.2,494.8L1151.3,494.6L1151.5,494.3L1151.7,494L1151.8,493.5L1152,493L1152.1,492.3L1152.3,491.4L1152.4,490.5L1152.6,489.4L1152.7,488.1L1152.9,486.7L1153,485.3L1153.2,483.7L1153.3,482.2L1153.5,480.7L1153.7,479.3L1153.8,478L1154,477L1154.1,476.2L1154.3,475.7L1154.4,475.5L1154.6,475.7L1154.7,476.2L1154.9,477L1155,478L1155.2,479.3L1155.4,480.7L1155.5,482.2L1155.7,483.7L1155.8,485.3L1156,486.7L1156.1,488.1L1156.3,489.4L1156.4,490.5L1156.6,491.4L1156.7,492.3L1156.9,493L1157,493.5L1157.2,494L1157.4,494.3L1157.5,494.6L1157.7,494.8L1157.8,494.9L1158,495L1158.1,495.1L1158.3,495.1L1158.4,495.2L1158.6,495.2L1158.7,495.2L1158.9,495.2L1159,495.2L1159.2,495.2L1159.4,495.2L1159.5,495.2L1159.7,495.2L1159.8,495.2L1160,495.2L1160.1,495.2L1160.3,495.2L1160.4,495.2L1160.6,495.3L1160.7,495.3L1160.9,495.3L1161,495.3L1161.2,495.3L1161.4,495.3L1161.5,495.3L1161.7,495.3L1161.8,495.3L1162,495.3L1162.1,495.3L1162.3,495.3L1162.4,495.3L1162.6,495.3L1162.7,495.3L1162.9,495.3L1163,495.3L1163.2,495.3L1163.4,495.3L1163.5,495.3L1163.7,495.3L1163.8,495.3L1164,495.3L1164.1,495.3L1164.3,495.3L1164.4,495.3L1164.6,495.3L1164.7,495.3L1164.9,495.3L1165,495.3L1165.2,495.3L1165.4,495.3L1165.5,495.3L1165.7,495.3L1165.8,495.3L1166,495.3L1166.1,495.3L1166.3,495.3L1166.4,495.3L1166.6,495.3L1166.7,495.3L1166.9,495.3L1167,495.3L1167.2,495.3L1167.4,495.3L1167.5,495.3L1167.7,495.3L1167.8,495.3L1168,495.3L1168.1,495.3L1168.3,495.3L1168.4,495.3L1168.6,495.3L1168.7,495.3L1168.9,495.3L1169.1,495.3L1169.2,495.3L1169.4,495.3L1169.5,495.3L1169.7,495.3L1169.8,495.3L1170,495.3L1170.1,495.3L1170.3,495.3L1170.4,495.3L1170.6,495.3L1170.7,495.3L1170.9,495.3L1171.1,495.3L1171.2,495.3L1171.4,495.3L1171.5,495.3L1171.7,495.3L1171.8,495.3L1172,495.3L1172.1,495.3L1172.3,495.3L1172.4,495.3L1172.6,495.3L1172.7,495.3L1172.9,495.3L1173.1,495.3L1173.2,495.3L1173.4,495.3L1173.5,495.3L1173.7,495.3L1173.8,495.3L1174,495.3L1174.1,495.3L1174.3,495.3L1174.4,495.3L1174.6,495.3L1174.7,495.3L1174.9,495.3L1175.1,495.3L1175.2,495.3L1175.4,495.3L1175.5,495.3L1175.7,495.3L1175.8,495.2L1176,495.2L1176.1,495.2L1176.3,495.2L1176.4,495.2L1176.6,495.2L1176.7,495.2L1176.9,495.2L1177.1,495.2L1177.2,495.2L1177.4,495.2L1177.5,495.2L1177.7,495.2L1177.8,495.2L1178,495.2L1178.1,495.2L1178.3,495.2L1178.4,495.2L1178.6,495.2L1178.7,495.2L1178.9,495.2L1179.1,495.2L1179.2,495.2L1179.4,495.2L1179.5,495.2L1179.7,495.2L1179.8,495.2L1180,495.2L1180.1,495.2L1180.3,495.2L1180.4,495.2L1180.6,495.2L1180.8,495.2L1180.9,495.2L1181.1,495.2L1181.2,495.1L1181.4,495.1L1181.5,495.1L1181.7,495L1181.8,495L1182,494.9L1182.1,494.8L1182.3,494.7L1182.4,494.6L1182.6,494.5L1182.8,494.3L1182.9,494.2L1183.1,493.9L1183.2,493.7L1183.4,493.4L1183.5,493.1L1183.7,492.7L1183.8,492.3L1184,491.8L1184.1,491.3L1184.3,490.7L1184.4,490L1184.6,489.3L1184.8,488.5L1184.9,487.6L1185.1,486.7L1185.2,485.6L1185.4,484.5L1185.5,483.4L1185.7,482.1L1185.8,480.8L1186,479.5L1186.1,478.1L1186.3,476.6L1186.4,475.2L1186.6,473.7L1186.8,472.2L1186.9,470.7L1187.1,469.3L1187.2,467.8L1187.4,466.5L1187.5,465.2L1187.7,464L1187.8,462.9L1188,461.9L1188.1,461.1L1188.3,460.4L1188.4,459.8L1188.6,459.4L1188.8,459.1L1188.9,459L1189.1,459.1L1189.2,459.4L1189.4,459.8L1189.5,460.4L1189.7,461.1L1189.8,461.9L1190,462.9L1190.1,464L1190.3,465.2L1190.4,466.5L1190.6,467.8L1190.8,469.3L1190.9,470.7L1191.1,472.2L1191.2,473.7L1191.4,475.2L1191.5,476.6L1191.7,478.1L1191.8,479.5L1192,480.8L1192.1,482.1L1192.3,483.4L1192.4,484.5L1192.6,485.6L1192.8,486.7L1192.9,487.6L1193.1,488.5L1193.2,489.3L1193.4,490L1193.5,490.7L1193.7,491.3L1193.8,491.8L1194,492.3L1194.1,492.7L1194.3,493.1L1194.5,493.4L1194.6,493.7L1194.8,493.9L1194.9,494.2L1195.1,494.3L1195.2,494.5L1195.4,494.6L1195.5,494.7L1195.7,494.8L1195.8,494.9L1196,495L1196.1,495L1196.3,495.1L1196.5,495.1L1196.6,495.1L1196.8,495.2L1196.9,495.2L1197.1,495.2L1197.2,495.2L1197.4,495.2L1197.5,495.2L1197.7,495.2L1197.8,495.2L1198,495.2L1198.1,495.2L1198.3,495.2L1198.5,495.2L1198.6,495.2L1198.8,495.2L1198.9,495.2L1199.1,495.2L1199.2,495.2L1199.4,495.2L1199.5,495.2L1199.7,495.2L1199.8,495.2L1200,495.2L1200.1,495.2L1200.3,495.2L1200.5,495.2L1200.6,495.2L1200.8,495.2L1200.9,495.2L1201.1,495.2L1201.2,495.2L1201.4,495.2L1201.5,495.2L1201.7,495.2L1201.8,495.2L1202,495.2L1202.1,495.2L1202.3,495.2L1202.5,495.2L1202.6,495.2L1202.8,495.2L1202.9,495.2L1203.1,495.2L1203.2,495.2L1203.4,495.2L1203.5,495.2L1203.7,495.2L1203.8,495.2L1204,495.2L1204.1,495.2L1204.3,495.2L1204.5,495.2L1204.6,495.2L1204.8,495.2L1204.9,495.2L1205.1,495.2L1205.2,495.2L1205.4,495.2L1205.5,495.2L1205.7,495.2L1205.8,495.2L1206,495.2L1206.2,495.2L1206.3,495.2L1206.5,495.2L1206.6,495.2L1206.8,495.2L1206.9,495.2L1207.1,495.2L1207.2,495.2L1207.4,495.2L1207.5,495.2L1207.7,495.2L1207.8,495.2L1208,495.2L1208.2,495.2L1208.3,495.2L1208.5,495.2L1208.6,495.2L1208.8,495.2L1208.9,495.2L1209.1,495.2L1209.2,495.2L1209.4,495.2L1209.5,495.2L1209.7,495.2L1209.8,495.2L1210,495.2L1210.2,495.2L1210.3,495.2L1210.5,495.2L1210.6,495.2L1210.8,495.2L1210.9,495.2L1211.1,495.2L1211.2,495.2L1211.4,495.2L1211.5,495.1L1211.7,495.1L1211.8,495.1L1212,495.1L1212.2,495.1L1212.3,495L1212.5,495L1212.6,494.9L1212.8,494.9L1212.9,494.8L1213.1,494.8L1213.2,494.7L1213.4,494.6L1213.5,494.5L1213.7,494.4L1213.8,494.3L1214,494.2L1214.2,494.1L1214.3,493.9L1214.5,493.7L1214.6,493.5L1214.8,493.3L1214.9,493.1L1215.1,492.8L1215.2,492.5L1215.4,492.2L1215.5,491.8L1215.7,491.4L1215.8,491L1216,490.5L1216.2,490L1216.3,489.5L1216.5,488.9L1216.6,488.3L1216.8,487.6L1216.9,486.9L1217.1,486.2L1217.2,485.3L1217.4,484.5L1217.5,483.6L1217.7,482.6L1217.8,481.6L1218,480.5L1218.2,479.4L1218.3,478.2L1218.5,477L1218.6,475.8L1218.8,474.5L1218.9,473.1L1219.1,471.8L1219.2,470.4L1219.4,468.9L1219.5,467.5L1219.7,466L1219.9,464.5L1220,463L1220.2,461.5L1220.3,460L1220.5,458.5L1220.6,457.1L1220.8,455.6L1220.9,454.2L1221.1,452.9L1221.2,451.5L1221.4,450.3L1221.5,449.1L1221.7,447.9L1221.9,446.9L1222,445.9L1222.2,445L1222.3,444.2L1222.5,443.5L1222.6,442.9L1222.8,442.4L1222.9,442L1223.1,441.7L1223.2,441.5L1223.4,441.5L1223.5,441.5L1223.7,441.7L1223.9,442L1224,442.4L1224.2,442.9L1224.3,443.5L1224.5,444.2L1224.6,445L1224.8,445.9L1224.9,446.9L1225.1,447.9L1225.2,449.1L1225.4,450.3L1225.5,451.5L1225.7,452.9L1225.9,454.2L1226,455.6L1226.2,457.1L1226.3,458.5L1226.5,460L1226.6,461.5L1226.8,463L1226.9,464.5L1227.1,466L1227.2,467.5L1227.4,468.9L1227.5,470.4L1227.7,471.8L1227.9,473.1L1228,474.5L1228.2,475.8L1228.3,477L1228.5,478.2L1228.6,479.4L1228.8,480.5L1228.9,481.6L1229.1,482.6L1229.2,483.6L1229.4,484.5L1229.5,485.3L1229.7,486.2L1229.9,486.9L1230,487.6L1230.2,488.3L1230.3,488.9L1230.5,489.5L1230.6,490L1230.8,490.5L1230.9,491L1231.1,491.4L1231.2,491.8L1231.4,492.2L1231.5,492.5L1231.7,492.8L1231.9,493.1L1232,493.3L1232.2,493.5L1232.3,493.7L1232.5,493.9L1232.6,494.1L1232.8,494.2L1232.9,494.3L1233.1,494.4L1233.2,494.5L1233.4,494.6L1233.6,494.7L1233.7,494.8L1233.9,494.8L1234,494.9L1234.2,494.9L1234.3,495L1234.5,495L1234.6,495.1L1234.8,495.1L1234.9,495.1L1235.1,495.1L1235.2,495.1L1235.4,495.2L1235.6,495.2L1235.7,495.2L1235.9,495.2L1236,495.2L1236.2,495.2L1236.3,495.2L1236.5,495.2L1236.6,495.2L1236.8,495.2L1236.9,495.2L1237.1,495.2L1237.2,495.2L1237.4,495.2L1237.6,495.2L1237.7,495.2L1237.9,495.2L1238,495.2L1238.2,495.2L1238.3,495.2L1238.5,495.2L1238.6,495.2L1238.8,495.2L1238.9,495.2L1239.1,495.2L1239.2,495.2L1239.4,495.2L1239.6,495.2L1239.7,495.2L1239.9,495.2L1240,495.2L1240.2,495.2L1240.3,495.2L1240.5,495.2L1240.6,495.2L1240.8,495.2L1240.9,495.2L1241.1,495.2L1241.2,495.2L1241.4,495.2L1241.6,495.2L1241.7,495.2L1241.9,495.2L1242,495.2L1242.2,495.2L1242.3,495.2L1242.5,495.2L1242.6,495.2L1242.8,495.2L1242.9,495.2L1243.1,495.1L1243.2,495.1L1243.4,495.1L1243.6,495.1L1243.7,495.1L1243.9,495L1244,495L1244.2,495L1244.3,494.9L1244.5,494.9L1244.6,494.9L1244.8,494.8L1244.9,494.7L1245.1,494.7L1245.3,494.6L1245.4,494.5L1245.6,494.5L1245.7,494.4L1245.9,494.3L1246,494.1L1246.2,494L1246.3,493.9L1246.5,493.7L1246.6,493.6L1246.8,493.4L1246.9,493.2L1247.1,493L1247.3,492.7L1247.4,492.5L1247.6,492.2L1247.7,491.9L1247.9,491.6L1248,491.2L1248.2,490.9L1248.3,490.4L1248.5,490L1248.6,489.6L1248.8,489.1L1248.9,488.5L1249.1,488L1249.3,487.4L1249.4,486.7L1249.6,486L1249.7,485.3L1249.9,484.5L1250,483.7L1250.2,482.9L1250.3,482L1250.5,481.1L1250.6,480.1L1250.8,479.1L1250.9,478L1251.1,476.9L1251.3,475.7L1251.4,474.5L1251.6,473.3L1251.7,472L1251.9,470.7L1252,469.3L1252.2,467.9L1252.3,466.4L1252.5,465L1252.6,463.5L1252.8,461.9L1252.9,460.4L1253.1,458.8L1253.3,457.2L1253.4,455.6L1253.6,453.9L1253.7,452.3L1253.9,450.7L1254,449.1L1254.2,447.4L1254.3,445.8L1254.5,444.2L1254.6,442.7L1254.8,441.1L1254.9,439.6L1255.1,438.2L1255.3,436.7L1255.4,435.4L1255.6,434L1255.7,432.8L1255.9,431.6L1256,430.5L1256.2,429.4L1256.3,428.4L1256.5,427.5L1256.6,426.7L1256.8,426L1256.9,425.3L1257.1,424.8L1257.3,424.4L1257.4,424L1257.6,423.8L1257.7,423.6L1257.9,423.6L1258,423.6L1258.2,423.8L1258.3,424L1258.5,424.4L1258.6,424.8L1258.8,425.3L1259,426L1259.1,426.7L1259.3,427.5L1259.4,428.4L1259.6,429.4L1259.7,430.5L1259.9,431.6L1260,432.8L1260.2,434L1260.3,435.4L1260.5,436.7L1260.6,438.2L1260.8,439.6L1261,441.1L1261.1,442.7L1261.3,444.2L1261.4,445.8L1261.6,447.4L1261.7,449.1L1261.9,450.7L1262,452.3L1262.2,453.9L1262.3,455.6L1262.5,457.2L1262.6,458.8L1262.8,460.4L1263,461.9L1263.1,463.5L1263.3,465L1263.4,466.4L1263.6,467.9L1263.7,469.3L1263.9,470.7L1264,472L1264.2,473.3L1264.3,474.5L1264.5,475.7L1264.6,476.9L1264.8,478L1265,479.1L1265.1,480.1L1265.3,481.1L1265.4,482L1265.6,482.9L1265.7,483.7L1265.9,484.5L1266,485.3L1266.2,486L1266.3,486.7L1266.5,487.4L1266.6,488L1266.8,488.5L1267,489.1L1267.1,489.6L1267.3,490L1267.4,490.4L1267.6,490.9L1267.7,491.2L1267.9,491.6L1268,491.9L1268.2,492.2L1268.3,492.5L1268.5,492.7L1268.6,493L1268.8,493.2L1269,493.4L1269.1,493.6L1269.3,493.7L1269.4,493.9L1269.6,494L1269.7,494.1L1269.9,494.3L1270,494.4L1270.2,494.5L1270.3,494.5L1270.5,494.6L1270.6,494.7L1270.8,494.7L1271,494.8L1271.1,494.9L1271.3,494.9L1271.4,494.9L1271.6,495L1271.7,495L1271.9,495L1272,495.1L1272.2,495.1L1272.3,495.1L1272.5,495.1L1272.7,495.1L1272.8,495.1L1273,495.1L1273.1,495.1L1273.3,495.2L1273.4,495.2L1273.6,495.2L1273.7,495.2L1273.9,495.2L1274,495.2L1274.2,495.2L1274.3,495.1L1274.5,495.1L1274.7,495.1L1274.8,495.1L1275,495.1L1275.1,495.1L1275.3,495.1L1275.4,495.1L1275.6,495L1275.7,495L1275.9,495L1276,495L1276.2,494.9L1276.3,494.9L1276.5,494.8L1276.7,494.8L1276.8,494.8L1277,494.7L1277.1,494.6L1277.3,494.6L1277.4,494.5L1277.6,494.4L1277.7,494.3L1277.9,494.3L1278,494.2L1278.2,494.1L1278.3,493.9L1278.5,493.8L1278.7,493.7L1278.8,493.5L1279,493.4L1279.1,493.2L1279.3,493L1279.4,492.8L1279.6,492.6L1279.7,492.4L1279.9,492.1L1280,491.9L1280.2,491.6L1280.3,491.3L1280.5,491L1280.7,490.6L1280.8,490.3L1281,489.9L1281.1,489.5L1281.3,489L1281.4,488.6L1281.6,488.1L1281.7,487.5L1281.9,487L1282,486.4L1282.2,485.8L1282.3,485.2L1282.5,484.5L1282.7,483.8L1282.8,483L1283,482.3L1283.1,481.4L1283.3,480.6L1283.4,479.7L1283.6,478.8L1283.7,477.8L1283.9,476.8L1284,475.8L1284.2,474.7L1284.4,473.6L1284.5,472.4L1284.7,471.3L1284.8,470L1285,468.8L1285.1,467.5L1285.3,466.2L1285.4,464.8L1285.6,463.4L1285.7,462L1285.9,460.5L1286,459.1L1286.2,457.6L1286.4,456L1286.5,454.5L1286.7,452.9L1286.8,451.3L1287,449.8L1287.1,448.2L1287.3,446.5L1287.4,444.9L1287.6,443.3L1287.7,441.7L1287.9,440.1L1288,438.5L1288.2,436.9L1288.4,435.3L1288.5,433.8L1288.7,432.3L1288.8,430.8L1289,429.3L1289.1,427.8L1289.3,426.4L1289.4,425.1L1289.6,423.8L1289.7,422.5L1289.9,421.3L1290,420.1L1290.2,419.1L1290.4,418L1290.5,417L1290.7,416.1L1290.8,415.3L1291,414.5L1291.1,413.9L1291.3,413.3L1291.4,412.7L1291.6,412.3L1291.7,411.9L1291.9,411.6L1292,411.4L1292.2,411.3L1292.4,411.3L1292.5,411.3L1292.7,411.4L1292.8,411.7L1293,412L1293.1,412.4L1293.3,412.8L1293.4,413.4L1293.6,414L1293.7,414.7L1293.9,415.5L1294,416.3L1294.2,417.3L1294.4,418.2L1294.5,419.3L1294.7,420.4L1294.8,421.6L1295,422.8L1295.1,424.1L1295.3,425.4L1295.4,426.8L1295.6,428.2L1295.7,429.7L1295.9,431.2L1296,432.7L1296.2,434.3L1296.4,435.8L1296.5,437.4L1296.7,439L1296.8,440.7L1297,442.3L1297.1,443.9L1297.3,445.6L1297.4,447.2L1297.6,448.9L1297.7,450.5L1297.9,452.1L1298.1,453.7L1298.2,455.3L1298.4,456.9L1298.5,458.5L1298.7,460L1298.8,461.5L1299,463L1299.1,464.5L1299.3,465.9L1299.4,467.3L1299.6,468.7L1299.7,470L1299.9,471.3L1300.1,472.6L1300.2,473.8L1300.4,475L1300.5,476.2L1300.7,477.3L1300.8,478.4L1301,479.4L1301.1,480.5L1301.3,481.4L1301.4,482.4L1301.6,483.3L1301.7,484.2L1301.9,485L1302.1,485.8L1302.2,486.6L1302.4,487.4L1302.5,488.1L1302.7,488.8L1302.8,489.5L1303,490.1L1303.1,490.7L1303.3,491.3L1303.4,491.8L1303.6,492.4L1303.7,492.9L1303.9,493.4L1304.1,493.9L1304.2,494.3L1304.4,494.7L1304.5,495.2L1304.7,495.6L1304.8,496L1305,496.3L1305.1,496.7L1305.3,497L1305.4,497.4L1305.6,497.7L1305.7,498.1L1305.9,498.4L1306.1,498.7L1306.2,499L1306.4,499.3L1306.5,499.6L1306.7,499.9L1306.8,500.2L1307,500.5L1307.1,500.8L1307.3,501L1307.4,501.3L1307.6,501.6L1307.7,501.9L1307.9,502.2L1308.1,502.5L1308.2,502.8L1308.4,503.1L1308.5,503.5L1308.7,503.8L1308.8,504.1L1309,504.5L1309.1,504.8L1309.3,505.2L1309.4,505.5L1309.6,505.9L1309.7,506.3L1309.9,506.7L1310.1,507.1L1310.2,507.5L1310.4,507.9L1310.5,508.4L1310.7,508.8L1310.8,509.3L1311,509.8L1311.1,510.3L1311.3,510.8L1311.4,511.3L1311.6,511.9L1311.8,512.4L1311.9,513L1312.1,513.6L1312.2,514.3L1312.4,514.9L1312.5,515.6L1312.7,516.3L1312.8,517L1313,517.7L1313.1,518.5L1313.3,519.3L1313.4,520.1L1313.6,520.9L1313.8,521.8L1313.9,522.7L1314.1,523.6L1314.2,524.6L1314.4,525.6L1314.5,526.6L1314.7,527.7L1314.8,528.8L1315,529.9L1315.1,531.1L1315.3,532.3L1315.4,533.6L1315.6,534.9L1315.8,536.2L1315.9,537.6L1316.1,539L1316.2,540.5L1316.4,542.1L1316.5,543.6L1316.7,545.3L1316.8,547L1317,548.7L1317.1,550.5L1317.3,552.4L1317.4,554.4L1317.6,556.4L1317.8,558.4L1317.9,560.6L1318.1,562.8L1318.2,565.1L1318.4,567.4L1318.5,569.9L1318.7,572.4L1318.8,575L1319,577.7L1319.1,580.5L1319.3,583.4L1319.4,586.4L1319.6,589.5L1319.8,592.7L1319.9,596L1320.1,599.4L1320.2,602.9L1320.4,606.6L1320.5,610.4L1320.7,614.3L1320.8,618.3L1321,622.5L1321.1,626.8L1321.3,631.3L1321.4,635.9L1321.6,640.6L1321.8,645.6L1321.9,650.7L1322.1,655.9L1322.2,661.4L1322.4,667L1322.5,672.8L1322.7,678.8L1322.8,685.1L1323,691.5L1323.1,698.1L1323.3,705L1323.5,712.1L1323.6,719.5L1323.8,727.1L1323.9,734.9L1324.1,743.1L1324.2,751.5L1324.4,760.1L1324.5,769.1L1324.7,778.4L1324.8,788L1325,797.9L1325.1,808.2L1325.3,818.8L1325.5,829.8L1325.6,841.1L1325.8,852.8L1325.9,864.9L1326.1,877.5L1326.2,890.4L1326.4,903.8L1326.5,917.7L1326.7,932L1326.8,946.8L1327,962.1L1327.1,977.9L1327.3,994.3L1327.5,1011.2L1327.6,1028.7L1327.8,1046.8L1327.9,1065.5L1328.1,1084.8L1328.2,1104.8L1328.4,1125.4L1328.5,1146.8L1328.7,1168.9L1328.8,1191.7L1329,1215.3L1329.1,1239.7L1329.3,1265" stroke="#1616b4"/>
<path d="M1083,2208.3L1083.2,2152.1L1083.3,2097.8L1083.5,2045.3L1083.6,1994.4L1083.8,1945.3L1083.9,1897.7L1084.1,1851.8L1084.2,1807.3L1084.4,1764.3L1084.5,1722.7L1084.7,1682.4L1084.8,1643.5L1085,1605.9L1085.2,1569.5L1085.3,1534.2L1085.5,1500.2L1085.6,1467.2L1085.8,1435.4L1085.9,1404.6L1086.1,1374.7L1086.2,1345.9L1086.4,1318L1086.5,1291L1086.7,1265L1086.8,1239.7L1087,1215.3L1087.2,1191.7L1087.3,1168.9L1087.5,1146.8L1087.6,1125.4L1087.8,1104.8L1087.9,1084.8L1088.1,1065.5L1088.2,1046.8L1088.4,1028.7L1088.5,1011.2L1088.7,994.3L1088.8,977.9L1089,962.1L1089.2,946.8L1089.3,932L1089.5,917.7L1089.6,903.8L1089.8,890.4L1089.9,877.5L1090.1,864.9L1090.2,852.8L1090.4,841.1L1090.5,829.8L1090.7,818.8L1090.9,808.2L1091,797.9L1091.2,788L1091.3,778.4L1091.5,769.1L1091.6,760.1L1091.8,751.5L1091.9,743.1L1092.1,734.9L1092.2,727.1L1092.4,719.5L1092.5,712.1L1092.7,705L1092.9,698.1L1093,691.5L1093.2,685.1L1093.3,678.8L1093.5,672.8L1093.6,667L1093.8,661.4L1093.9,655.9L1094.1,650.7L1094.2,645.6L1094.4,640.6L1094.5,635.9L1094.7,631.3L1094.9,626.8L1095,622.5L1095.2,618.3L1095.3,614.3L1095.5,610.4L1095.6,606.6L1095.8,602.9L1095.9,599.4L1096.1,596L1096.2,592.7L1096.4,589.5L1096.5,586.4L1096.7,583.4L1096.9,580.5L1097,577.7L1097.2,575L1097.3,572.4L1097.5,569.9L1097.6,567.4L1097.8,565.1L1097.9,562.8L1098.1,560.6L1098.2,558.4L1098.4,556.4L1098.5,554.4L1098.7,552.4L1098.9,550.5L1099,548.7L1099.2,547L1099.3,545.3L1099.5,543.6L1099.6,542.1L1099.8,540.5L1099.9,539L1100.1,537.6L1100.2,536.2L1100.4,534.9L1100.5,533.6L1100.7,532.3L1100.9,531.1L1101,529.9L1101.2,528.8L1101.3,527.7L1101.5,526.6L1101.6,525.6L1101.8,524.6L1101.9,523.6L1102.1,522.7L1102.2,521.8L1102.4,520.9L1102.6,520.1L1102.7,519.3L1102.9,518.5L1103,517.7L1103.2,517L1103.3,516.3L1103.5,515.6L1103.6,514.9L1103.8,514.3L1103.9,513.7L1104.1,513.1L1104.2,512.5L1104.4,511.9L1104.6,511.4L1104.7,510.8L1104.9,510.3L1105,509.8L1105.2,509.3L1105.3,508.9L1105.5,508.4L1105.6,508L1105.8,507.6L1105.9,507.2L1106.1,506.8L1106.2,506.4L1106.4,506L1106.6,505.7L1106.7,505.4L1106.9,505L1107,504.7L1107.2,504.4L1107.3,504.1L1107.5,503.8L1107.6,503.5L1107.8,503.2L1107.9,503L1108.1,502.7L1108.2,502.5L1108.4,502.3L1108.6,502L1108.7,501.8L1108.9,501.6L1109,501.4L1109.2,501.2L1109.3,501L1109.5,500.8L1109.6,500.6L1109.8,500.4L1109.9,500.3L1110.1,500.1L1110.2,499.9L1110.4,499.8L1110.6,499.6L1110.7,499.5L1110.9,499.4L1111,499.2L1111.2,499.1L1111.3,499L1111.5,498.8L1111.6,498.7L1111.8,498.6L1111.9,498.5L1112.1,498.4L1112.2,498.3L1112.4,498.2L1112.6,498.1L1112.7,498L1112.9,497.9L1113,497.8L1113.2,497.7L1113.3,497.7L1113.5,497.6L1113.6,497.5L1113.8,497.4L1113.9,497.4L1114.1,497.3L1114.2,497.2L1114.4,497.2L1114.6,497.1L1114.7,497L1114.9,497L1115,496.9L1115.2,496.9L1115.3,496.8L1115.5,496.8L1115.6,496.7L1115.8,496.7L1115.9,496.6L1116.1,496.6L1116.3,496.6L1116.4,496.6L1116.6,496.8L1116.7,497L1116.9,497.5L1117,498.1L1117.2,499L1117.3,499.9L1117.5,500.7L1117.6,501.2L1117.8,501.4L1117.9,501L1118.1,500.2L1118.3,499L1118.4,497.7L1118.6,496.4L1118.7,495L1118.9,493.7L1119,492.5L1119.2,491.2L1119.3,489.9L1119.5,488.6L1119.6,487.4L1119.8,486.4L1119.9,486L1120.1,486.4L1120.3,487.3L1120.4,488.4L1120.6,489.6L1120.7,490.8L1120.9,491.9L1121,492.8L1121.2,493.6L1121.3,494.2L1121.5,494.6L1121.6,495L1121.8,495.2L1121.9,495.3L1122.1,495.4L1122.3,495.5L1122.4,495.5L1122.6,495.5L1122.7,495.5L1122.9,495.5L1123,495.5L1123.2,495.5L1123.3,495.5L1123.5,495.5L1123.6,495.5L1123.8,495.5L1123.9,495.5L1124.1,495.5L1124.3,495.5L1124.4,495.5L1124.6,495.5L1124.7,495.5L1124.9,495.4L1125,495.4L1125.2,495.4L1125.3,495.4L1125.5,495.4L1125.6,495.4L1125.8,495.4L1125.9,495.4L1126.1,495.4L1126.3,495.4L1126.4,495.4L1126.6,495.4L1126.7,495.4L1126.9,495.4L1127,495.4L1127.2,495.4L1127.3,495.4L1127.5,495.4L1127.6,495.4L1127.8,495.4L1127.9,495.4L1128.1,495.3L1128.3,495.3L1128.4,495.3L1128.6,495.3L1128.7,495.3L1128.9,495.3L1129,495.3L1129.2,495.3L1129.3,495.3L1129.5,495.3L1129.6,495.3L1129.8,495.3L1130,495.3L1130.1,495.3L1130.3,495.3L1130.4,495.3L1130.6,495.3L1130.7,495.3L1130.9,495.3L1131,495.3L1131.2,495.3L1131.3,495.3L1131.5,495.3L1131.6,495.3L1131.8,495.3L1132,495.3L1132.1,495.3L1132.3,495.3L1132.4,495.3L1132.6,495.3L1132.7,495.3L1132.9,495.3L1133,495.3L1133.2,495.3L1133.3,495.3L1133.5,495.3L1133.6,495.3L1133.8,495.3L1134,495.3L1134.1,495.3L1134.3,495.3L1134.4,495.3L1134.6,495.3L1134.7,495.3L1134.9,495.3L1135,495.3L1135.2,495.3L1135.3,495.3L1135.5,495.3L1135.6,495.3L1135.8,495.3L1136,495.3L1136.1,495.3L1136.3,495.3L1136.4,495.3L1136.6,495.3L1136.7,495.3L1136.9,495.3L1137,495.3L1137.2,495.3L1137.3,495.3L1137.5,495.3L1137.6,495.3L1137.8,495.3L1138,495.3L1138.1,495.3L1138.3,495.3L1138.4,495.3L1138.6,495.3L1138.7,495.3L1138.9,495.3L1139,495.3L1139.2,495.3L1139.3,495.3L1139.5,495.3L1139.6,495.3L1139.8,495.3L1140,495.3L1140.1,495.3L1140.3,495.3L1140.4,495.3L1140.6,495.3L1140.7,495.3L1140.9,495.3L1141,495.3L1141.2,495.3L1141.3,495.3L1141.5,495.3L1141.7,495.3L1141.8,495.3L1142,495.3L1142.1,495.3L1142.3,495.3L1142.4,495.3L1142.6,495.3L1142.7,495.3L1142.9,495.3L1143,495.3L1143.2,495.3L1143.3,495.3L1143.5,495.3L1143.7,495.3L1143.8,495.3L1144,495.3L1144.1,495.3L1144.3,495.3L1144.4,495.3L1144.6,495.3L1144.7,495.3L1144.9,495.3L1145,495.3L1145.2,495.3L1145.3,495.3L1145.5,495.3L1145.7,495.3L1145.8,495.3L1146,495.3L1146.1,495.3L1146.3,495.3L1146.4,495.2L1146.6,495.2L1146.7,495.2L1146.9,495.2L1147,495.2L1147.2,495.2L1147.3,495.2L1147.5,495.2L1147.7,495.2L1147.8,495.2L1148,495.2L1148.1,495.2L1148.3,495.2L1148.4,495.2L1148.6,495.2L1148.7,495.1L1148.9,495.1L1149,495.1L1149.2,495L1149.3,495L1149.5,494.9L1149.7,494.8L1149.8,494.7L1150,494.6L1150.1,494.5L1150.3,494.3L1150.4,494.1L1150.6,493.9L1150.7,493.6L1150.9,493.4L1151,493L1151.2,492.7L1151.3,492.2L1151.5,491.8L1151.7,491.2L1151.8,490.7L1152,490L1152.1,489.3L1152.3,488.6L1152.4,487.8L1152.6,487L1152.7,486.1L1152.9,485.2L1153,484.3L1153.2,483.3L1153.3,482.4L1153.5,481.5L1153.7,480.7L1153.8,479.9L1154,479.2L1154.1,478.6L1154.3,478.2L1154.4,478L1154.6,478.2L1154.7,478.6L1154.9,479.2L1155,479.9L1155.2,480.7L1155.4,481.5L1155.5,482.4L1155.7,483.3L1155.8,484.3L1156,485.2L1156.1,486.1L1156.3,487L1156.4,487.8L1156.6,488.6L1156.7,489.3L1156.9,490L1157,490.7L1157.2,491.2L1157.4,491.8L1157.5,492.2L1157.7,492.7L1157.8,493L1158,493.4L1158.1,493.6L1158.3,493.9L1158.4,494.1L1158.6,494.3L1158.7,494.5L1158.9,494.6L1159,494.7L1159.2,494.8L1159.4,494.9L1159.5,495L1159.7,495L1159.8,495.1L1160,495.1L1160.1,495.1L1160.3,495.2L1160.4,495.2L1160.6,495.2L1160.7,495.2L1160.9,495.2L1161,495.2L1161.2,495.2L1161.4,495.2L1161.5,495.2L1161.7,495.2L1161.8,495.2L1162,495.2L1162.1,495.2L1162.3,495.2L1162.4,495.2L1162.6,495.2L1162.7,495.2L1162.9,495.2L1163,495.2L1163.2,495.2L1163.4,495.2L1163.5,495.2L1163.7,495.2L1163.8,495.2L1164,495.2L1164.1,495.2L1164.3,495.2L1164.4,495.2L1164.6,495.3L1164.7,495.3L1164.9,495.3L1165,495.3L1165.2,495.3L1165.4,495.3L1165.5,495.3L1165.7,495.3L1165.8,495.3L1166,495.3L1166.1,495.3L1166.3,495.3L1166.4,495.3L1166.6,495.3L1166.7,495.3L1166.9,495.3L1167,495.3L1167.2,495.3L1167.4,495.3L1167.5,495.3L1167.7,495.3L1167.8,495.3L1168,495.3L1168.1,495.3L1168.3,495.3L1168.4,495.3L1168.6,495.3L1168.7,495.3L1168.9,495.3L1169.1,495.3L1169.2,495.2L1169.4,495.2L1169.5,495.2L1169.7,495.2L1169.8,495.2L1170,495.2L1170.1,495.2L1170.3,495.2L1170.4,495.2L1170.6,495.2L1170.7,495.2L1170.9,495.2L1171.1,495.2L1171.2,495.2L1171.4,495.2L1171.5,495.2L1171.7,495.2L1171.8,495.2L1172,495.2L1172.1,495.2L1172.3,495.2L1172.4,495.2L1172.6,495.2L1172.7,495.2L1172.9,495.2L1173.1,495.2L1173.2,495.2L1173.4,495.2L1173.5,495.2L1173.7,495.2L1173.8,495.2L1174,495.2L1174.1,495.2L1174.3,495.2L1174.4,495.2L1174.6,495.2L1174.7,495.2L1174.9,495.2L1175.1,495.2L1175.2,495.2L1175.4,495.2L1175.5,495.2L1175.7,495.2L1175.8,495.2L1176,495.2L1176.1,495.2L1176.3,495.2L1176.4,495.2L1176.6,495.2L1176.7,495.2L1176.9,495.2L1177.1,495.2L1177.2,495.2L1177.4,495.2L1177.5,495.2L1177.7,495.1L1177.8,495.1L1178,495.1L1178.1,495.1L1178.3,495.1L1178.4,495.1L1178.6,495L1178.7,495L1178.9,495L1179.1,494.9L1179.2,494.9L1179.4,494.8L1179.5,494.8L1179.7,494.7L1179.8,494.7L1180,494.6L1180.1,494.5L1180.3,494.5L1180.4,494.4L1180.6,494.3L1180.8,494.2L1180.9,494.1L1181.1,493.9L1181.2,493.8L1181.4,493.7L1181.5,493.5L1181.7,493.3L1181.8,493.1L1182,492.9L1182.1,492.7L1182.3,492.5L1182.4,492.2L1182.6,491.9L1182.8,491.6L1182.9,491.3L1183.1,491L1183.2,490.6L1183.4,490.3L1183.5,489.9L1183.7,489.4L1183.8,489L1184,488.5L1184.1,488L1184.3,487.5L1184.4,487L1184.6,486.4L1184.8,485.8L1184.9,485.2L1185.1,484.6L1185.2,483.9L1185.4,483.2L1185.5,482.5L1185.7,481.8L1185.8,481.1L1186,480.4L1186.1,479.6L1186.3,478.9L1186.4,478.1L1186.6,477.3L1186.8,476.6L1186.9,475.8L1187.1,475.1L1187.2,474.4L1187.4,473.7L1187.5,473L1187.7,472.4L1187.8,471.8L1188,471.2L1188.1,470.7L1188.3,470.3L1188.4,469.9L1188.6,469.6L1188.8,469.4L1188.9,469.3L1189.1,469.4L1189.2,469.6L1189.4,469.9L1189.5,470.3L1189.7,470.7L1189.8,471.2L1190,471.8L1190.1,472.4L1190.3,473L1190.4,473.7L1190.6,474.4L1190.8,475.1L1190.9,475.8L1191.1,476.6L1191.2,477.3L1191.4,478.1L1191.5,478.9L1191.7,479.6L1191.8,480.4L1192,481.1L1192.1,481.8L1192.3,482.5L1192.4,483.2L1192.6,483.9L1192.8,484.6L1192.9,485.2L1193.1,485.8L1193.2,486.4L1193.4,487L1193.5,487.5L1193.7,488L1193.8,488.5L1194,489L1194.1,489.4L1194.3,489.9L1194.5,490.3L1194.6,490.6L1194.8,491L1194.9,491.3L1195.1,491.6L1195.2,491.9L1195.4,492.2L1195.5,492.5L1195.7,492.7L1195.8,492.9L1196,493.1L1196.1,493.3L1196.3,493.5L1196.5,493.7L1196.6,493.8L1196.8,493.9L1196.9,494.1L1197.1,494.2L1197.2,494.3L1197.4,494.4L1197.5,494.5L1197.7,494.5L1197.8,494.6L1198,494.7L1198.1,494.7L1198.3,494.8L1198.5,494.8L1198.6,494.9L1198.8,494.9L1198.9,495L1199.1,495L1199.2,495L1199.4,495L1199.5,495.1L1199.7,495.1L1199.8,495.1L1200,495.1L1200.1,495.1L1200.3,495.2L1200.5,495.2L1200.6,495.2L1200.8,495.2L1200.9,495.2L1201.1,495.2L1201.2,495.2L1201.4,495.2L1201.5,495.2L1201.7,495.2L1201.8,495.2L1202,495.2L1202.1,495.2L1202.3,495.2L1202.5,495.2L1202.6,495.2L1202.8,495.2L1202.9,495.2L1203.1,495.2L1203.2,495.2L1203.4,495.2L1203.5,495.2L1203.7,495.2L1203.8,495.2L1204,495.2L1204.1,495.2L1204.3,495.2L1204.5,495.2L1204.6,495.2L1204.8,495.2L1204.9,495.2L1205.1,495.2L1205.2,495.2L1205.4,495.2L1205.5,495.2L1205.7,495.2L1205.8,495.1L1206,495.1L1206.2,495.1L1206.3,495.1L1206.5,495.1L1206.6,495.1L1206.8,495.1L1206.9,495.1L1207.1,495L1207.2,495L1207.4,495L1207.5,495L1207.7,495L1207.8,494.9L1208,494.9L1208.2,494.9L1208.3,494.8L1208.5,494.8L1208.6,494.8L1208.8,494.7L1208.9,494.7L1209.1,494.7L1209.2,494.6L1209.4,494.6L1209.5,494.5L1209.7,494.5L1209.8,494.4L1210,494.3L1210.2,494.3L1210.3,494.2L1210.5,494.1L1210.6,494L1210.8,493.9L1210.9,493.8L1211.1,493.7L1211.2,493.6L1211.4,493.5L1211.5,493.4L1211.7,493.3L1211.8,493.1L1212,493L1212.2,492.8L1212.3,492.7L1212.5,492.5L1212.6,492.3L1212.8,492.1L1212.9,492L1213.1,491.7L1213.2,491.5L1213.4,491.3L1213.5,491.1L1213.7,490.8L1213.8,490.5L1214,490.3L1214.2,490L1214.3,489.7L1214.5,489.4L1214.6,489L1214.8,488.7L1214.9,488.3L1215.1,488L1215.2,487.6L1215.4,487.2L1215.5,486.8L1215.7,486.3L1215.8,485.9L1216,485.4L1216.2,484.9L1216.3,484.4L1216.5,483.9L1216.6,483.4L1216.8,482.9L1216.9,482.3L1217.1,481.7L1217.2,481.2L1217.4,480.6L1217.5,479.9L1217.7,479.3L1217.8,478.7L1218,478L1218.2,477.3L1218.3,476.7L1218.5,476L1218.6,475.3L1218.8,474.6L1218.9,473.8L1219.1,473.1L1219.2,472.4L1219.4,471.7L1219.5,470.9L1219.7,470.2L1219.9,469.4L1220,468.7L1220.2,468L1220.3,467.2L1220.5,466.5L1220.6,465.8L1220.8,465.1L1220.9,464.4L1221.1,463.7L1221.2,463.1L1221.4,462.4L1221.5,461.8L1221.7,461.2L1221.9,460.7L1222,460.1L1222.2,459.6L1222.3,459.1L1222.5,458.7L1222.6,458.3L1222.8,458L1222.9,457.7L1223.1,457.5L1223.2,457.3L1223.4,457.2L1223.5,457.3L1223.7,457.5L1223.9,457.7L1224,458L1224.2,458.3L1224.3,458.7L1224.5,459.1L1224.6,459.6L1224.8,460.1L1224.9,460.7L1225.1,461.2L1225.2,461.8L1225.4,462.4L1225.5,463.1L1225.7,463.7L1225.9,464.4L1226,465.1L1226.2,465.8L1226.3,466.5L1226.5,467.2L1226.6,468L1226.8,468.7L1226.9,469.4L1227.1,470.2L1227.2,470.9L1227.4,471.7L1227.5,472.4L1227.7,473.1L1227.9,473.8L1228,474.6L1228.2,475.3L1228.3,476L1228.5,476.7L1228.6,477.3L1228.8,478L1228.9,478.7L1229.1,479.3L1229.2,479.9L1229.4,480.5L1229.5,481.1L1229.7,481.7L1229.9,482.3L1230,482.9L1230.2,483.4L1230.3,483.9L1230.5,484.4L1230.6,484.9L1230.8,485.4L1230.9,485.9L1231.1,486.3L1231.2,486.7L1231.4,487.2L1231.5,487.6L1231.7,487.9L1231.9,488.3L1232,488.7L1232.2,489L1232.3,489.3L1232.5,489.7L1232.6,490L1232.8,490.2L1232.9,490.5L1233.1,490.8L1233.2,491L1233.4,491.3L1233.6,491.5L1233.7,491.7L1233.9,491.9L1234,492.1L1234.2,492.3L1234.3,492.4L1234.5,492.6L1234.6,492.8L1234.8,492.9L1234.9,493L1235.1,493.2L1235.2,493.3L1235.4,493.4L1235.6,493.5L1235.7,493.6L1235.9,493.7L1236,493.8L1236.2,493.9L1236.3,493.9L1236.5,494L1236.6,494.1L1236.8,494.1L1236.9,494.2L1237.1,494.2L1237.2,494.2L1237.4,494.3L1237.6,494.3L1237.7,494.3L1237.9,494.4L1238,494.4L1238.2,494.4L1238.3,494.4L1238.5,494.4L1238.6,494.4L1238.8,494.4L1238.9,494.4L1239.1,494.4L1239.2,494.4L1239.4,494.4L1239.6,494.3L1239.7,494.3L1239.9,494.3L1240,494.3L1240.2,494.2L1240.3,494.2L1240.5,494.1L1240.6,494.1L1240.8,494L1240.9,494L1241.1,493.9L1241.2,493.9L1241.4,493.8L1241.6,493.7L1241.7,493.6L1241.9,493.6L1242,493.5L1242.2,493.4L1242.3,493.3L1242.5,493.2L1242.6,493.1L1242.8,492.9L1242.9,492.8L1243.1,492.7L1243.2,492.6L1243.4,492.4L1243.6,492.3L1243.7,492.1L1243.9,492L1244,491.8L1244.2,491.6L1244.3,491.4L1244.5,491.2L1244.6,491L1244.8,490.8L1244.9,490.6L1245.1,490.4L1245.3,490.2L1245.4,489.9L1245.6,489.7L1245.7,489.4L1245.9,489.1L1246,488.8L1246.2,488.5L1246.3,488.2L1246.5,487.9L1246.6,487.6L1246.8,487.3L1246.9,486.9L1247.1,486.5L1247.3,486.2L1247.4,485.8L1247.6,485.4L1247.7,485L1247.9,484.6L1248,484.1L1248.2,483.7L1248.3,483.2L1248.5,482.7L1248.6,482.3L1248.8,481.8L1248.9,481.2L1249.1,480.7L1249.3,480.2L1249.4,479.6L1249.6,479.1L1249.7,478.5L1249.9,477.9L1250,477.3L1250.2,476.7L1250.3,476L1250.5,475.4L1250.6,474.8L1250.8,474.1L1250.9,473.4L1251.1,472.7L1251.3,472L1251.4,471.3L1251.6,470.6L1251.7,469.9L1251.9,469.2L1252,468.4L1252.2,467.7L1252.3,467L1252.5,466.2L1252.6,465.4L1252.8,464.7L1252.9,463.9L1253.1,463.1L1253.3,462.4L1253.4,461.6L1253.6,460.8L1253.7,460.1L1253.9,459.3L1254,458.6L1254.2,457.8L1254.3,457.1L1254.5,456.3L1254.6,455.6L1254.8,454.9L1254.9,454.2L1255.1,453.5L1255.3,452.8L1255.4,452.2L1255.6,451.5L1255.7,450.9L1255.9,450.3L1256,449.7L1256.2,449.2L1256.3,448.7L1256.5,448.2L1256.6,447.7L1256.8,447.3L1256.9,446.9L1257.1,446.6L1257.3,446.3L1257.4,446L1257.6,445.8L1257.7,445.7L1257.9,445.6L1258,445.7L1258.2,445.8L1258.3,446L1258.5,446.3L1258.6,446.6L1258.8,446.9L1259,447.3L1259.1,447.7L1259.3,448.2L1259.4,448.7L1259.6,449.2L1259.7,449.7L1259.9,450.3L1260,450.9L1260.2,451.5L1260.3,452.1L1260.5,452.8L1260.6,453.5L1260.8,454.2L1261,454.9L1261.1,455.6L1261.3,456.3L1261.4,457L1261.6,457.8L1261.7,458.5L1261.9,459.3L1262,460.1L1262.2,460.8L1262.3,461.6L1262.5,462.3L1262.6,463.1L1262.8,463.9L1263,464.6L1263.1,465.4L1263.3,466.2L1263.4,466.9L1263.6,467.7L1263.7,468.4L1263.9,469.1L1264,469.9L1264.2,470.6L1264.3,471.3L1264.5,472L1264.6,472.7L1264.8,473.3L1265,474L1265.1,474.7L1265.3,475.3L1265.4,475.9L1265.6,476.6L1265.7,477.2L1265.9,477.8L1266,478.3L1266.2,478.9L1266.3,479.5L1266.5,480L1266.6,480.5L1266.8,481.1L1267,481.6L1267.1,482L1267.3,482.5L1267.4,483L1267.6,483.4L1267.7,483.9L1267.9,484.3L1268,484.7L1268.2,485.1L1268.3,485.5L1268.5,485.8L1268.6,486.2L1268.8,486.5L1269,486.9L1269.1,487.2L1269.3,487.5L1269.4,487.8L1269.6,488L1269.7,488.3L1269.9,488.6L1270,488.8L1270.2,489L1270.3,489.3L1270.5,489.5L1270.6,489.7L1270.8,489.8L1271,490L1271.1,490.2L1271.3,490.3L1271.4,490.5L1271.6,490.6L1271.7,490.7L1271.9,490.9L1272,491L1272.2,491.1L1272.3,491.1L1272.5,491.2L1272.7,491.3L1272.8,491.3L1273,491.4L1273.1,491.4L1273.3,491.5L1273.4,491.5L1273.6,491.5L1273.7,491.5L1273.9,491.5L1274,491.5L1274.2,491.5L1274.3,491.4L1274.5,491.4L1274.7,491.3L1274.8,491.3L1275,491.2L1275.1,491.1L1275.3,491.1L1275.4,491L1275.6,490.9L1275.7,490.8L1275.9,490.7L1276,490.5L1276.2,490.4L1276.3,490.3L1276.5,490.1L1276.7,489.9L1276.8,489.8L1277,489.6L1277.1,489.4L1277.3,489.2L1277.4,489L1277.6,488.8L1277.7,488.6L1277.9,488.3L1278,488.1L1278.2,487.8L1278.3,487.6L1278.5,487.3L1278.7,487L1278.8,486.7L1279,486.4L1279.1,486.1L1279.3,485.8L1279.4,485.5L1279.6,485.1L1279.7,484.8L1279.9,484.4L1280,484L1280.2,483.6L1280.3,483.2L1280.5,482.8L1280.7,482.4L1280.8,481.9L1281,481.5L1281.1,481L1281.3,480.6L1281.4,480.1L1281.6,479.6L1281.7,479.1L1281.9,478.6L1282,478.1L1282.2,477.5L1282.3,477L1282.5,476.4L1282.7,475.8L1282.8,475.3L1283,474.7L1283.1,474.1L1283.3,473.4L1283.4,472.8L1283.6,472.2L1283.7,471.5L1283.9,470.9L1284,470.2L1284.2,469.5L1284.4,468.9L1284.5,468.2L1284.7,467.5L1284.8,466.8L1285,466L1285.1,465.3L1285.3,464.6L1285.4,463.8L1285.6,463.1L1285.7,462.3L1285.9,461.6L1286,460.8L1286.2,460.1L1286.4,459.3L1286.5,458.5L1286.7,457.8L1286.8,457L1287,456.2L1287.1,455.5L1287.3,454.7L1287.4,453.9L1287.6,453.2L1287.7,452.4L1287.9,451.6L1288,450.9L1288.2,450.1L1288.4,449.4L1288.5,448.7L1288.7,447.9L1288.8,447.2L1289,446.5L1289.1,445.8L1289.3,445.2L1289.4,444.5L1289.6,443.9L1289.7,443.3L1289.9,442.6L1290,442.1L1290.2,441.5L1290.4,441L1290.5,440.4L1290.7,439.9L1290.8,439.5L1291,439L1291.1,438.6L1291.3,438.3L1291.4,437.9L1291.6,437.6L1291.7,437.4L1291.9,437.2L1292,437L1292.2,436.9L1292.4,436.9L1292.5,436.9L1292.7,437.1L1292.8,437.3L1293,437.5L1293.1,437.8L1293.3,438.2L1293.4,438.5L1293.6,439L1293.7,439.4L1293.9,439.9L1294,440.4L1294.2,440.9L1294.4,441.5L1294.5,442.1L1294.7,442.7L1294.8,443.3L1295,443.9L1295.1,444.6L1295.3,445.3L1295.4,446L1295.6,446.7L1295.7,447.5L1295.9,448.2L1296,449L1296.2,449.7L1296.4,450.5L1296.5,451.3L1296.7,452.1L1296.8,452.9L1297,453.7L1297.1,454.6L1297.3,455.4L1297.4,456.2L1297.6,457.1L1297.7,457.9L1297.9,458.7L1298.1,459.6L1298.2,460.4L1298.4,461.3L1298.5,462.1L1298.7,462.9L1298.8,463.8L1299,464.6L1299.1,465.5L1299.3,466.3L1299.4,467.1L1299.6,468L1299.7,468.8L1299.9,469.6L1300.1,470.4L1300.2,471.2L1300.4,472L1300.5,472.8L1300.7,473.6L1300.8,474.4L1301,475.2L1301.1,476L1301.3,476.7L1301.4,477.5L1301.6,478.3L1301.7,479L1301.9,479.8L1302.1,480.5L1302.2,481.2L1302.4,482L1302.5,482.7L1302.7,483.4L1302.8,484.1L1303,484.8L1303.1,485.5L1303.3,486.2L1303.4,486.9L1303.6,487.6L1303.7,488.3L1303.9,489L1304.1,489.7L1304.2,490.3L1304.4,491L1304.5,491.7L1304.7,492.4L1304.8,493L1305,493.7L1305.1,494.4L1305.3,495L1305.4,495.7L1305.6,496.4L1305.7,497.1L1305.9,497.7L1306.1,498.4L1306.2,499.1L1306.4,499.8L1306.5,500.5L1306.7,501.1L1306.8,501.8L1307,502.5L1307.1,503.3L1307.3,504L1307.4,504.7L1307.6,505.4L1307.7,506.2L1307.9,506.9L1308.1,507.7L1308.2,508.5L1308.4,509.3L1308.5,510.1L1308.7,510.9L1308.8,511.7L1309,512.6L1309.1,513.5L1309.3,514.4L1309.4,515.3L1309.6,516.2L1309.7,517.1L1309.9,518.1L1310.1,519.1L1310.2,520.1L1310.4,521.2L1310.5,522.3L1310.7,523.4L1310.8,524.5L1311,525.6L1311.1,526.8L1311.3,528.1L1311.4,529.3L1311.6,530.6L1311.8,532L1311.9,533.3L1312.1,534.8L1312.2,536.2L1312.4,537.7L1312.5,539.3L1312.7,540.9L1312.8,542.5L1313,544.2L1313.1,546L1313.3,547.8L1313.4,549.6L1313.6,551.5L1313.8,553.5L1313.9,555.6L1314.1,557.7L1314.2,559.9L1314.4,562.1L1314.5,564.4L1314.7,566.8L1314.8,569.3L1315,571.9L1315.1,574.5L1315.3,577.3L1315.4,580.1L1315.6,583L1315.8,586L1315.9,589.1L1316.1,592.3L1316.2,595.7L1316.4,599.1L1316.5,602.6L1316.7,606.3L1316.8,610.1L1317,614L1317.1,618.1L1317.3,622.2L1317.4,626.6L1317.6,631L1317.8,635.7L1317.9,640.4L1318.1,645.4L1318.2,650.5L1318.4,655.8L1318.5,661.2L1318.7,666.9L1318.8,672.7L1319,678.7L1319.1,684.9L1319.3,691.4L1319.4,698L1319.6,704.9L1319.8,712L1319.9,719.4L1320.1,727L1320.2,734.9L1320.4,743L1320.5,751.4L1320.7,760.1L1320.8,769.1L1321,778.4L1321.1,788L1321.3,797.9L1321.4,808.1L1321.6,818.8L1321.8,829.7L1321.9,841.1L1322.1,852.8L1322.2,864.9L1322.4,877.4L1322.5,890.4L1322.7,903.8L1322.8,917.6L1323,932L1323.1,946.8L1323.3,962.1L1323.5,977.9L1323.6,994.3L1323.8,1011.2L1323.9,1028.7L1324.1,1046.8L1324.2,1065.4L1324.4,1084.8L1324.5,1104.8L1324.7,1125.4L1324.8,1146.8L1325,1168.9L1325.1,1191.7L1325.3,1215.3L1325.5,1239.7L1325.6,1265L1325.8,1291L1325.9,1318L1326.1,1345.9L1326.2,1374.7L1326.4,1404.5L1326.5,1435.4L1326.7,1467.2L1326.8,1500.2L1327,1534.2L1327.1,1569.5L1327.3,1605.9L1327.5,1643.5L1327.6,1682.4L1327.8,1722.7L1327.9,1764.3L1328.1,1807.3L1328.2,1851.8L1328.4,1897.7L1328.5,1945.3L1328.7,1994.4L1328.8,2045.2L1329,2097.8L1329.1,2152.1L1329.3,2208.3" stroke="#d81e3c" stroke-width="1.7"/>
</g>
<rect x="1083" y="316" width="246.3" height="215.1" fill="none" stroke="#929292" stroke-width="0.9"/>
<g font-family='"Liberation Serif", "Times New Roman", serif' fill="#222" stroke="#222" stroke-width="0.12">
<g text-anchor="end" font-size="13.9">
<text x="1078.5" y="320.6">2</text>
<text x="1078.5" y="356.5">1.8</text>
<text x="1078.5" y="392.3">1.6</text>
<text x="1078.5" y="428.2">1.4</text>
<text x="1078.5" y="464">1.2</text>
<text x="1078.5" y="499.9">1</text>
<text x="1078.5" y="533.2">0.8</text>
</g><g text-anchor="middle" font-size="12.6">
<text transform="translate(1081.5,545.3) scale(1.06,1)">-200</text>
<text transform="translate(1142.5,545.3) scale(1.06,1)">-100</text>
<text transform="translate(1206,545.3) scale(1.06,1)">0</text>
<text transform="translate(1265.6,545.3) scale(1.06,1)">-100</text>
<text transform="translate(1324.5,545.3) scale(1.06,1)">-200</text>
</g>
<text font-size="16.4" text-anchor="middle" x="1206.7" y="565.4">X (mm)</text>
<text font-size="13.4" text-anchor="middle" transform="translate(1055.2,422.9) rotate(-90)">Intensity (a.u.)</text>
<text font-size="21" x="1090" y="337">(e)</text>
</g></g>
</svg>
</body>
</html>
